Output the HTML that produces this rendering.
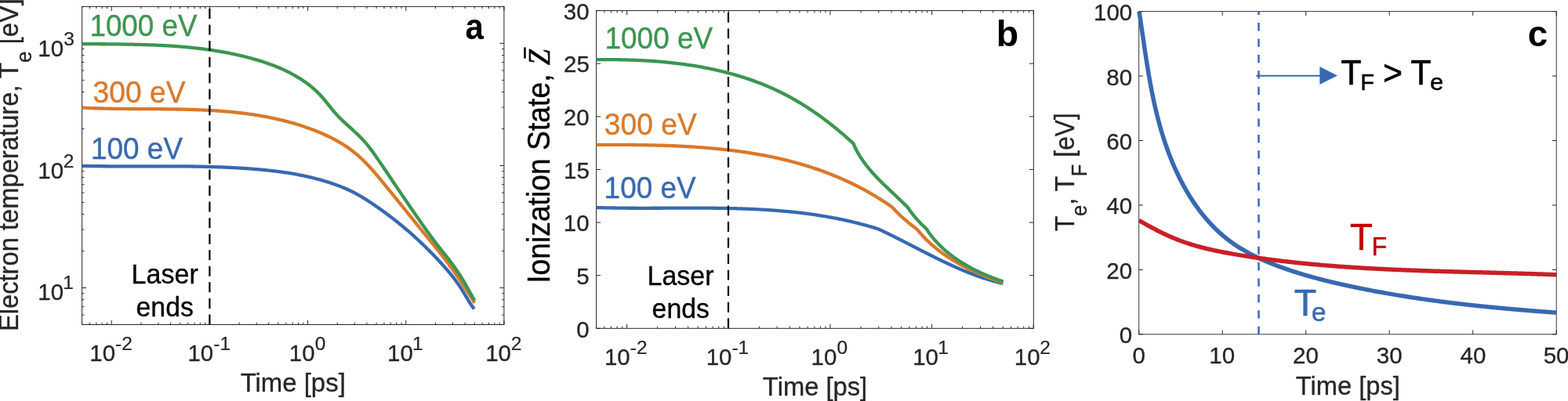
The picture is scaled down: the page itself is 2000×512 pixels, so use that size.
<!DOCTYPE html>
<html lang="en">
<head>
<meta charset="utf-8">
<title>Figure</title>
<style>
html,body{margin:0;padding:0;background:#fff;}
body{width:2000px;height:512px;overflow:hidden;}
svg{display:block;font-family:"Liberation Sans",sans-serif;}
</style>
</head>
<body>
<svg width="2000" height="512" viewBox="0 0 2000 512">
<rect x="0" y="0" width="2000" height="512" fill="#ffffff"/>
<rect x="104.6" y="8.4" width="538.3" height="406.1" fill="none" stroke="#262626" stroke-width="1.0"/>
<line x1="104.6" y1="414.5" x2="104.6" y2="411.75" stroke="#262626" stroke-width="1.0" />
<line x1="104.6" y1="8.4" x2="104.6" y2="11.15" stroke="#262626" stroke-width="1.0" />
<line x1="114.51" y1="414.5" x2="114.51" y2="411.75" stroke="#262626" stroke-width="1.0" />
<line x1="114.51" y1="8.4" x2="114.51" y2="11.15" stroke="#262626" stroke-width="1.0" />
<line x1="122.89" y1="414.5" x2="122.89" y2="411.75" stroke="#262626" stroke-width="1.0" />
<line x1="122.89" y1="8.4" x2="122.89" y2="11.15" stroke="#262626" stroke-width="1.0" />
<line x1="130.15" y1="414.5" x2="130.15" y2="411.75" stroke="#262626" stroke-width="1.0" />
<line x1="130.15" y1="8.4" x2="130.15" y2="11.15" stroke="#262626" stroke-width="1.0" />
<line x1="136.55" y1="414.5" x2="136.55" y2="411.75" stroke="#262626" stroke-width="1.0" />
<line x1="136.55" y1="8.4" x2="136.55" y2="11.15" stroke="#262626" stroke-width="1.0" />
<line x1="142.28" y1="414.5" x2="142.28" y2="409" stroke="#262626" stroke-width="1.0" />
<line x1="142.28" y1="8.4" x2="142.28" y2="13.9" stroke="#262626" stroke-width="1.0" />
<text transform="translate(114.31,461.1) scale(0.295,0.301)" font-size="100" fill="#262626" stroke="#262626" stroke-width="1.0" >10</text>
<text transform="translate(147.08,447.2) scale(0.245,0.238)" font-size="100" fill="#262626" stroke="#262626" stroke-width="1.0" >-2</text>
<line x1="179.95" y1="414.5" x2="179.95" y2="411.75" stroke="#262626" stroke-width="1.0" />
<line x1="179.95" y1="8.4" x2="179.95" y2="11.15" stroke="#262626" stroke-width="1.0" />
<line x1="201.99" y1="414.5" x2="201.99" y2="411.75" stroke="#262626" stroke-width="1.0" />
<line x1="201.99" y1="8.4" x2="201.99" y2="11.15" stroke="#262626" stroke-width="1.0" />
<line x1="217.63" y1="414.5" x2="217.63" y2="411.75" stroke="#262626" stroke-width="1.0" />
<line x1="217.63" y1="8.4" x2="217.63" y2="11.15" stroke="#262626" stroke-width="1.0" />
<line x1="229.76" y1="414.5" x2="229.76" y2="411.75" stroke="#262626" stroke-width="1.0" />
<line x1="229.76" y1="8.4" x2="229.76" y2="11.15" stroke="#262626" stroke-width="1.0" />
<line x1="239.67" y1="414.5" x2="239.67" y2="411.75" stroke="#262626" stroke-width="1.0" />
<line x1="239.67" y1="8.4" x2="239.67" y2="11.15" stroke="#262626" stroke-width="1.0" />
<line x1="248.04" y1="414.5" x2="248.04" y2="411.75" stroke="#262626" stroke-width="1.0" />
<line x1="248.04" y1="8.4" x2="248.04" y2="11.15" stroke="#262626" stroke-width="1.0" />
<line x1="255.3" y1="414.5" x2="255.3" y2="411.75" stroke="#262626" stroke-width="1.0" />
<line x1="255.3" y1="8.4" x2="255.3" y2="11.15" stroke="#262626" stroke-width="1.0" />
<line x1="261.7" y1="414.5" x2="261.7" y2="411.75" stroke="#262626" stroke-width="1.0" />
<line x1="261.7" y1="8.4" x2="261.7" y2="11.15" stroke="#262626" stroke-width="1.0" />
<line x1="267.43" y1="414.5" x2="267.43" y2="409" stroke="#262626" stroke-width="1.0" />
<line x1="267.43" y1="8.4" x2="267.43" y2="13.9" stroke="#262626" stroke-width="1.0" />
<text transform="translate(239.47,461.1) scale(0.295,0.301)" font-size="100" fill="#262626" stroke="#262626" stroke-width="1.0" >10</text>
<text transform="translate(272.23,447.2) scale(0.245,0.238)" font-size="100" fill="#262626" stroke="#262626" stroke-width="1.0" >-1</text>
<line x1="305.11" y1="414.5" x2="305.11" y2="411.75" stroke="#262626" stroke-width="1.0" />
<line x1="305.11" y1="8.4" x2="305.11" y2="11.15" stroke="#262626" stroke-width="1.0" />
<line x1="327.15" y1="414.5" x2="327.15" y2="411.75" stroke="#262626" stroke-width="1.0" />
<line x1="327.15" y1="8.4" x2="327.15" y2="11.15" stroke="#262626" stroke-width="1.0" />
<line x1="342.78" y1="414.5" x2="342.78" y2="411.75" stroke="#262626" stroke-width="1.0" />
<line x1="342.78" y1="8.4" x2="342.78" y2="11.15" stroke="#262626" stroke-width="1.0" />
<line x1="354.91" y1="414.5" x2="354.91" y2="411.75" stroke="#262626" stroke-width="1.0" />
<line x1="354.91" y1="8.4" x2="354.91" y2="11.15" stroke="#262626" stroke-width="1.0" />
<line x1="364.82" y1="414.5" x2="364.82" y2="411.75" stroke="#262626" stroke-width="1.0" />
<line x1="364.82" y1="8.4" x2="364.82" y2="11.15" stroke="#262626" stroke-width="1.0" />
<line x1="373.2" y1="414.5" x2="373.2" y2="411.75" stroke="#262626" stroke-width="1.0" />
<line x1="373.2" y1="8.4" x2="373.2" y2="11.15" stroke="#262626" stroke-width="1.0" />
<line x1="380.46" y1="414.5" x2="380.46" y2="411.75" stroke="#262626" stroke-width="1.0" />
<line x1="380.46" y1="8.4" x2="380.46" y2="11.15" stroke="#262626" stroke-width="1.0" />
<line x1="386.86" y1="414.5" x2="386.86" y2="411.75" stroke="#262626" stroke-width="1.0" />
<line x1="386.86" y1="8.4" x2="386.86" y2="11.15" stroke="#262626" stroke-width="1.0" />
<line x1="392.59" y1="414.5" x2="392.59" y2="409" stroke="#262626" stroke-width="1.0" />
<line x1="392.59" y1="8.4" x2="392.59" y2="13.9" stroke="#262626" stroke-width="1.0" />
<text transform="translate(368.82,461.1) scale(0.295,0.301)" font-size="100" fill="#262626" stroke="#262626" stroke-width="1.0" >10</text>
<text transform="translate(401.83,447.2) scale(0.245,0.238)" font-size="100" fill="#262626" stroke="#262626" stroke-width="1.0" >0</text>
<line x1="430.26" y1="414.5" x2="430.26" y2="411.75" stroke="#262626" stroke-width="1.0" />
<line x1="430.26" y1="8.4" x2="430.26" y2="11.15" stroke="#262626" stroke-width="1.0" />
<line x1="452.3" y1="414.5" x2="452.3" y2="411.75" stroke="#262626" stroke-width="1.0" />
<line x1="452.3" y1="8.4" x2="452.3" y2="11.15" stroke="#262626" stroke-width="1.0" />
<line x1="467.94" y1="414.5" x2="467.94" y2="411.75" stroke="#262626" stroke-width="1.0" />
<line x1="467.94" y1="8.4" x2="467.94" y2="11.15" stroke="#262626" stroke-width="1.0" />
<line x1="480.07" y1="414.5" x2="480.07" y2="411.75" stroke="#262626" stroke-width="1.0" />
<line x1="480.07" y1="8.4" x2="480.07" y2="11.15" stroke="#262626" stroke-width="1.0" />
<line x1="489.98" y1="414.5" x2="489.98" y2="411.75" stroke="#262626" stroke-width="1.0" />
<line x1="489.98" y1="8.4" x2="489.98" y2="11.15" stroke="#262626" stroke-width="1.0" />
<line x1="498.36" y1="414.5" x2="498.36" y2="411.75" stroke="#262626" stroke-width="1.0" />
<line x1="498.36" y1="8.4" x2="498.36" y2="11.15" stroke="#262626" stroke-width="1.0" />
<line x1="505.62" y1="414.5" x2="505.62" y2="411.75" stroke="#262626" stroke-width="1.0" />
<line x1="505.62" y1="8.4" x2="505.62" y2="11.15" stroke="#262626" stroke-width="1.0" />
<line x1="512.02" y1="414.5" x2="512.02" y2="411.75" stroke="#262626" stroke-width="1.0" />
<line x1="512.02" y1="8.4" x2="512.02" y2="11.15" stroke="#262626" stroke-width="1.0" />
<line x1="517.74" y1="414.5" x2="517.74" y2="409" stroke="#262626" stroke-width="1.0" />
<line x1="517.74" y1="8.4" x2="517.74" y2="13.9" stroke="#262626" stroke-width="1.0" />
<text transform="translate(493.98,461.1) scale(0.295,0.301)" font-size="100" fill="#262626" stroke="#262626" stroke-width="1.0" >10</text>
<text transform="translate(526.01,447.2) scale(0.245,0.238)" font-size="100" fill="#262626" stroke="#262626" stroke-width="1.0" >1</text>
<line x1="555.42" y1="414.5" x2="555.42" y2="411.75" stroke="#262626" stroke-width="1.0" />
<line x1="555.42" y1="8.4" x2="555.42" y2="11.15" stroke="#262626" stroke-width="1.0" />
<line x1="577.46" y1="414.5" x2="577.46" y2="411.75" stroke="#262626" stroke-width="1.0" />
<line x1="577.46" y1="8.4" x2="577.46" y2="11.15" stroke="#262626" stroke-width="1.0" />
<line x1="593.1" y1="414.5" x2="593.1" y2="411.75" stroke="#262626" stroke-width="1.0" />
<line x1="593.1" y1="8.4" x2="593.1" y2="11.15" stroke="#262626" stroke-width="1.0" />
<line x1="605.22" y1="414.5" x2="605.22" y2="411.75" stroke="#262626" stroke-width="1.0" />
<line x1="605.22" y1="8.4" x2="605.22" y2="11.15" stroke="#262626" stroke-width="1.0" />
<line x1="615.13" y1="414.5" x2="615.13" y2="411.75" stroke="#262626" stroke-width="1.0" />
<line x1="615.13" y1="8.4" x2="615.13" y2="11.15" stroke="#262626" stroke-width="1.0" />
<line x1="623.51" y1="414.5" x2="623.51" y2="411.75" stroke="#262626" stroke-width="1.0" />
<line x1="623.51" y1="8.4" x2="623.51" y2="11.15" stroke="#262626" stroke-width="1.0" />
<line x1="630.77" y1="414.5" x2="630.77" y2="411.75" stroke="#262626" stroke-width="1.0" />
<line x1="630.77" y1="8.4" x2="630.77" y2="11.15" stroke="#262626" stroke-width="1.0" />
<line x1="637.17" y1="414.5" x2="637.17" y2="411.75" stroke="#262626" stroke-width="1.0" />
<line x1="637.17" y1="8.4" x2="637.17" y2="11.15" stroke="#262626" stroke-width="1.0" />
<line x1="642.9" y1="414.5" x2="642.9" y2="409" stroke="#262626" stroke-width="1.0" />
<line x1="642.9" y1="8.4" x2="642.9" y2="13.9" stroke="#262626" stroke-width="1.0" />
<text transform="translate(619.13,461.1) scale(0.295,0.301)" font-size="100" fill="#262626" stroke="#262626" stroke-width="1.0" >10</text>
<text transform="translate(651.65,447.2) scale(0.245,0.238)" font-size="100" fill="#262626" stroke="#262626" stroke-width="1.0" >2</text>
<line x1="104.6" y1="414.5" x2="107.35" y2="414.5" stroke="#262626" stroke-width="1.0" />
<line x1="642.9" y1="414.5" x2="640.15" y2="414.5" stroke="#262626" stroke-width="1.0" />
<line x1="104.6" y1="402.14" x2="107.35" y2="402.14" stroke="#262626" stroke-width="1.0" />
<line x1="642.9" y1="402.14" x2="640.15" y2="402.14" stroke="#262626" stroke-width="1.0" />
<line x1="104.6" y1="391.69" x2="107.35" y2="391.69" stroke="#262626" stroke-width="1.0" />
<line x1="642.9" y1="391.69" x2="640.15" y2="391.69" stroke="#262626" stroke-width="1.0" />
<line x1="104.6" y1="382.64" x2="107.35" y2="382.64" stroke="#262626" stroke-width="1.0" />
<line x1="642.9" y1="382.64" x2="640.15" y2="382.64" stroke="#262626" stroke-width="1.0" />
<line x1="104.6" y1="374.66" x2="107.35" y2="374.66" stroke="#262626" stroke-width="1.0" />
<line x1="642.9" y1="374.66" x2="640.15" y2="374.66" stroke="#262626" stroke-width="1.0" />
<line x1="104.6" y1="367.52" x2="110.1" y2="367.52" stroke="#262626" stroke-width="1.0" />
<line x1="642.9" y1="367.52" x2="637.4" y2="367.52" stroke="#262626" stroke-width="1.0" />
<text transform="translate(48.23,383.22) scale(0.295,0.301)" font-size="100" fill="#262626" stroke="#262626" stroke-width="1.0" >10</text>
<text transform="translate(80.27,369.32) scale(0.245,0.238)" font-size="100" fill="#262626" stroke="#262626" stroke-width="1.0" >1</text>
<line x1="104.6" y1="320.54" x2="107.35" y2="320.54" stroke="#262626" stroke-width="1.0" />
<line x1="642.9" y1="320.54" x2="640.15" y2="320.54" stroke="#262626" stroke-width="1.0" />
<line x1="104.6" y1="293.05" x2="107.35" y2="293.05" stroke="#262626" stroke-width="1.0" />
<line x1="642.9" y1="293.05" x2="640.15" y2="293.05" stroke="#262626" stroke-width="1.0" />
<line x1="104.6" y1="273.56" x2="107.35" y2="273.56" stroke="#262626" stroke-width="1.0" />
<line x1="642.9" y1="273.56" x2="640.15" y2="273.56" stroke="#262626" stroke-width="1.0" />
<line x1="104.6" y1="258.43" x2="107.35" y2="258.43" stroke="#262626" stroke-width="1.0" />
<line x1="642.9" y1="258.43" x2="640.15" y2="258.43" stroke="#262626" stroke-width="1.0" />
<line x1="104.6" y1="246.07" x2="107.35" y2="246.07" stroke="#262626" stroke-width="1.0" />
<line x1="642.9" y1="246.07" x2="640.15" y2="246.07" stroke="#262626" stroke-width="1.0" />
<line x1="104.6" y1="235.63" x2="107.35" y2="235.63" stroke="#262626" stroke-width="1.0" />
<line x1="642.9" y1="235.63" x2="640.15" y2="235.63" stroke="#262626" stroke-width="1.0" />
<line x1="104.6" y1="226.57" x2="107.35" y2="226.57" stroke="#262626" stroke-width="1.0" />
<line x1="642.9" y1="226.57" x2="640.15" y2="226.57" stroke="#262626" stroke-width="1.0" />
<line x1="104.6" y1="218.59" x2="107.35" y2="218.59" stroke="#262626" stroke-width="1.0" />
<line x1="642.9" y1="218.59" x2="640.15" y2="218.59" stroke="#262626" stroke-width="1.0" />
<line x1="104.6" y1="211.45" x2="110.1" y2="211.45" stroke="#262626" stroke-width="1.0" />
<line x1="642.9" y1="211.45" x2="637.4" y2="211.45" stroke="#262626" stroke-width="1.0" />
<text transform="translate(48.23,227.75) scale(0.295,0.301)" font-size="100" fill="#262626" stroke="#262626" stroke-width="1.0" >10</text>
<text transform="translate(80.76,213.85) scale(0.245,0.238)" font-size="100" fill="#262626" stroke="#262626" stroke-width="1.0" >2</text>
<line x1="104.6" y1="164.47" x2="107.35" y2="164.47" stroke="#262626" stroke-width="1.0" />
<line x1="642.9" y1="164.47" x2="640.15" y2="164.47" stroke="#262626" stroke-width="1.0" />
<line x1="104.6" y1="136.99" x2="107.35" y2="136.99" stroke="#262626" stroke-width="1.0" />
<line x1="642.9" y1="136.99" x2="640.15" y2="136.99" stroke="#262626" stroke-width="1.0" />
<line x1="104.6" y1="117.49" x2="107.35" y2="117.49" stroke="#262626" stroke-width="1.0" />
<line x1="642.9" y1="117.49" x2="640.15" y2="117.49" stroke="#262626" stroke-width="1.0" />
<line x1="104.6" y1="102.36" x2="107.35" y2="102.36" stroke="#262626" stroke-width="1.0" />
<line x1="642.9" y1="102.36" x2="640.15" y2="102.36" stroke="#262626" stroke-width="1.0" />
<line x1="104.6" y1="90" x2="107.35" y2="90" stroke="#262626" stroke-width="1.0" />
<line x1="642.9" y1="90" x2="640.15" y2="90" stroke="#262626" stroke-width="1.0" />
<line x1="104.6" y1="79.56" x2="107.35" y2="79.56" stroke="#262626" stroke-width="1.0" />
<line x1="642.9" y1="79.56" x2="640.15" y2="79.56" stroke="#262626" stroke-width="1.0" />
<line x1="104.6" y1="70.51" x2="107.35" y2="70.51" stroke="#262626" stroke-width="1.0" />
<line x1="642.9" y1="70.51" x2="640.15" y2="70.51" stroke="#262626" stroke-width="1.0" />
<line x1="104.6" y1="62.52" x2="107.35" y2="62.52" stroke="#262626" stroke-width="1.0" />
<line x1="642.9" y1="62.52" x2="640.15" y2="62.52" stroke="#262626" stroke-width="1.0" />
<line x1="104.6" y1="55.38" x2="110.1" y2="55.38" stroke="#262626" stroke-width="1.0" />
<line x1="642.9" y1="55.38" x2="637.4" y2="55.38" stroke="#262626" stroke-width="1.0" />
<text transform="translate(48.23,71.88) scale(0.295,0.301)" font-size="100" fill="#262626" stroke="#262626" stroke-width="1.0" >10</text>
<text transform="translate(81.25,57.98) scale(0.245,0.238)" font-size="100" fill="#262626" stroke="#262626" stroke-width="1.0" >3</text>
<line x1="104.6" y1="8.4" x2="107.35" y2="8.4" stroke="#262626" stroke-width="1.0" />
<line x1="642.9" y1="8.4" x2="640.15" y2="8.4" stroke="#262626" stroke-width="1.0" />
<path d="M104.6,211.8 L106.1,211.84 L107.6,211.87 L109.1,211.9 L110.6,211.93 L112.09,211.96 L113.59,211.99 L115.09,212.02 L116.59,212.04 L118.09,212.07 L119.59,212.09 L121.09,212.11 L122.59,212.13 L124.09,212.15 L125.59,212.17 L127.09,212.19 L128.59,212.2 L130.09,212.22 L131.58,212.23 L133.08,212.25 L134.58,212.26 L136.08,212.27 L137.58,212.28 L139.08,212.29 L140.58,212.3 L142.08,212.31 L143.58,212.32 L145.08,212.32 L146.58,212.33 L148.08,212.33 L149.58,212.34 L151.08,212.34 L152.58,212.34 L154.08,212.35 L155.58,212.35 L157.08,212.35 L158.58,212.35 L160.08,212.35 L161.58,212.35 L163.08,212.35 L164.58,212.35 L166.08,212.35 L167.58,212.35 L169.09,212.34 L170.59,212.34 L172.09,212.34 L173.59,212.34 L175.09,212.33 L176.59,212.33 L178.09,212.33 L179.59,212.32 L181.09,212.32 L182.59,212.32 L184.09,212.31 L185.59,212.31 L187.09,212.31 L188.59,212.3 L190.09,212.3 L191.59,212.3 L193.09,212.29 L194.59,212.29 L196.09,212.29 L197.59,212.29 L199.09,212.28 L200.59,212.28 L202.1,212.28 L203.6,212.28 L205.1,212.28 L206.6,212.28 L208.1,212.28 L209.6,212.28 L211.1,212.28 L212.6,212.28 L214.1,212.28 L215.6,212.29 L217.1,212.29 L218.6,212.29 L220.1,212.3 L221.6,212.3 L223.1,212.31 L224.6,212.31 L226.1,212.32 L227.6,212.33 L229.1,212.34 L230.6,212.35 L232.1,212.36 L233.6,212.37 L235.1,212.38 L236.6,212.4 L238.1,212.41 L239.6,212.43 L241.1,212.44 L242.6,212.46 L244.1,212.48 L245.6,212.5 L247.1,212.52 L248.6,212.54 L250.1,212.57 L251.6,212.59 L253.1,212.62 L254.6,212.64 L256.1,212.67 L257.6,212.7 L259.1,212.73 L260.6,212.77 L262.1,212.8 L263.6,212.84 L265.1,212.87 L266.6,212.91 L268.1,212.95 L269.6,212.99 L271.1,213.04 L272.59,213.08 L274.09,213.13 L275.59,213.18 L277.09,213.23 L278.59,213.28 L280.09,213.33 L281.59,213.39 L283.09,213.45 L284.59,213.51 L286.08,213.57 L287.58,213.63 L289.08,213.7 L290.58,213.76 L292.08,213.83 L293.58,213.9 L295.07,213.98 L296.57,214.05 L298.07,214.13 L299.57,214.21 L301.07,214.29 L302.56,214.37 L304.06,214.46 L305.56,214.55 L307.06,214.64 L308.55,214.73 L310.05,214.83 L311.55,214.92 L313.05,215.02 L314.54,215.13 L316.04,215.23 L317.54,215.34 L319.04,215.45 L320.53,215.56 L322.03,215.68 L323.53,215.8 L325.02,215.92 L326.52,216.04 L328.01,216.17 L329.51,216.3 L331.01,216.43 L332.5,216.56 L334,216.7 L335.49,216.84 L336.98,216.99 L338.48,217.14 L339.97,217.29 L341.46,217.45 L342.96,217.61 L344.45,217.77 L345.94,217.94 L347.43,218.11 L348.92,218.28 L350.41,218.46 L351.9,218.65 L353.39,218.83 L354.88,219.03 L356.36,219.22 L357.85,219.42 L359.33,219.63 L360.82,219.84 L362.3,220.05 L363.78,220.27 L365.27,220.49 L366.75,220.72 L368.23,220.95 L369.71,221.19 L371.18,221.44 L372.66,221.68 L374.14,221.94 L375.61,222.2 L377.09,222.46 L378.56,222.73 L380.03,223.01 L381.5,223.29 L382.97,223.57 L384.44,223.87 L385.9,224.16 L387.37,224.47 L388.83,224.78 L390.29,225.09 L391.76,225.42 L393.22,225.74 L394.67,226.08 L396.13,226.42 L397.59,226.77 L399.04,227.12 L400.49,227.48 L401.94,227.85 L403.39,228.22 L404.84,228.6 L406.29,228.99 L407.73,229.38 L409.17,229.78 L410.62,230.19 L412.05,230.61 L413.49,231.03 L414.93,231.46 L416.36,231.9 L417.79,232.34 L419.22,232.8 L420.65,233.26 L422.08,233.72 L423.5,234.2 L424.92,234.68 L426.34,235.17 L427.76,235.67 L429.17,236.18 L430.58,236.7 L431.99,237.23 L433.39,237.77 L434.79,238.31 L436.18,238.87 L437.57,239.44 L438.96,240.01 L440.34,240.6 L441.71,241.2 L443.08,241.81 L444.45,242.43 L445.8,243.06 L447.16,243.7 L448.5,244.35 L449.84,245.02 L451.18,245.7 L452.5,246.39 L453.82,247.09 L455.14,247.81 L456.44,248.53 L457.75,249.27 L459.04,250.01 L460.33,250.77 L461.62,251.53 L462.89,252.31 L464.17,253.09 L465.44,253.88 L466.7,254.68 L467.97,255.48 L469.22,256.29 L470.48,257.11 L471.73,257.93 L472.98,258.75 L474.22,259.58 L475.46,260.42 L476.7,261.26 L477.94,262.1 L479.17,262.94 L480.4,263.79 L481.63,264.65 L482.86,265.51 L484.08,266.37 L485.3,267.23 L486.52,268.1 L487.73,268.98 L488.94,269.85 L490.15,270.73 L491.36,271.62 L492.56,272.51 L493.76,273.4 L494.96,274.3 L496.16,275.2 L497.35,276.1 L498.54,277.01 L499.72,277.92 L500.91,278.84 L502.09,279.75 L503.27,280.68 L504.44,281.61 L505.62,282.54 L506.79,283.47 L507.95,284.41 L509.12,285.35 L510.28,286.3 L511.44,287.25 L512.6,288.2 L513.75,289.16 L514.9,290.12 L516.05,291.09 L517.19,292.05 L518.33,293.03 L519.47,294 L520.61,294.98 L521.74,295.97 L522.87,296.95 L524,297.94 L525.12,298.94 L526.24,299.93 L527.36,300.93 L528.47,301.94 L529.59,302.95 L530.69,303.96 L531.8,304.97 L532.9,305.99 L534,307.01 L535.1,308.04 L536.19,309.06 L537.28,310.1 L538.37,311.13 L539.45,312.17 L540.53,313.21 L541.61,314.25 L542.68,315.3 L543.76,316.35 L544.82,317.41 L545.89,318.46 L546.95,319.52 L548.01,320.58 L549.06,321.65 L550.11,322.72 L551.16,323.79 L552.21,324.87 L553.25,325.94 L554.29,327.03 L555.32,328.11 L556.35,329.2 L557.38,330.29 L558.4,331.38 L559.43,332.47 L560.44,333.57 L561.46,334.67 L562.47,335.77 L563.48,336.88 L564.48,337.99 L565.48,339.1 L566.47,340.22 L567.47,341.34 L568.45,342.46 L569.43,343.59 L570.41,344.72 L571.38,345.86 L572.34,347 L573.3,348.15 L574.25,349.3 L575.19,350.45 L576.13,351.61 L577.06,352.78 L577.98,353.95 L578.9,355.13 L579.8,356.32 L580.7,357.51 L581.59,358.71 L582.48,359.92 L583.35,361.13 L584.21,362.35 L585.07,363.58 L585.91,364.81 L586.74,366.05 L587.57,367.3 L588.38,368.56 L589.18,369.83 L589.98,371.11 L590.76,372.39 L591.54,373.68 L592.31,374.97 L593.07,376.27 L593.84,377.56 L594.6,378.86 L595.37,380.16 L596.14,381.45 L596.91,382.74 L597.69,384.02 L598.48,385.3 L599.29,386.57 L600.1,387.82 L600.93,389.07 L601.77,390.3 L602.64,391.52 L603.52,392.72 L604.43,393.91 L604.9,394.5" fill="none" stroke="#3769b1" stroke-width="4.3" stroke-linejoin="round" stroke-linecap="butt"/>
<path d="M104.6,137.49 L106.07,137.57 L107.54,137.64 L109.01,137.71 L110.48,137.78 L111.95,137.85 L113.43,137.91 L114.9,137.97 L116.38,138.03 L117.85,138.09 L119.33,138.15 L120.81,138.2 L122.29,138.25 L123.77,138.3 L125.25,138.34 L126.73,138.39 L128.22,138.43 L129.7,138.47 L131.18,138.51 L132.67,138.55 L134.16,138.58 L135.65,138.61 L137.13,138.65 L138.62,138.68 L140.12,138.71 L141.61,138.73 L143.1,138.76 L144.59,138.78 L146.09,138.81 L147.58,138.83 L149.08,138.85 L150.57,138.87 L152.07,138.89 L153.57,138.91 L155.06,138.92 L156.56,138.94 L158.06,138.95 L159.56,138.97 L161.06,138.98 L162.56,138.99 L164.07,139 L165.57,139.01 L167.07,139.02 L168.57,139.03 L170.08,139.04 L171.58,139.05 L173.09,139.06 L174.59,139.07 L176.1,139.08 L177.61,139.08 L179.11,139.09 L180.62,139.1 L182.13,139.1 L183.64,139.11 L185.14,139.12 L186.65,139.13 L188.16,139.13 L189.67,139.14 L191.18,139.15 L192.69,139.15 L194.2,139.16 L195.71,139.17 L197.22,139.18 L198.74,139.19 L200.25,139.2 L201.76,139.21 L203.27,139.22 L204.78,139.23 L206.3,139.24 L207.81,139.25 L209.32,139.27 L210.83,139.28 L212.35,139.3 L213.86,139.31 L215.37,139.33 L216.88,139.35 L218.4,139.37 L219.91,139.39 L221.42,139.41 L222.94,139.43 L224.45,139.46 L225.96,139.48 L227.48,139.51 L228.99,139.54 L230.5,139.57 L232.01,139.6 L233.53,139.63 L235.04,139.67 L236.55,139.71 L238.06,139.74 L239.58,139.78 L241.09,139.83 L242.6,139.87 L244.11,139.91 L245.62,139.96 L247.13,140.01 L248.64,140.06 L250.15,140.12 L251.66,140.17 L253.17,140.23 L254.68,140.29 L256.19,140.36 L257.7,140.42 L259.21,140.49 L260.72,140.56 L262.22,140.63 L263.73,140.71 L265.24,140.79 L266.75,140.87 L268.25,140.95 L269.76,141.04 L271.26,141.13 L272.77,141.22 L274.27,141.31 L275.77,141.41 L277.28,141.51 L278.78,141.62 L280.28,141.72 L281.78,141.83 L283.28,141.95 L284.78,142.07 L286.28,142.19 L287.78,142.31 L289.28,142.44 L290.77,142.57 L292.27,142.7 L293.77,142.84 L295.26,142.98 L296.76,143.13 L298.25,143.28 L299.74,143.43 L301.23,143.59 L302.72,143.75 L304.21,143.91 L305.7,144.08 L307.19,144.25 L308.68,144.43 L310.17,144.61 L311.65,144.8 L313.14,144.98 L314.62,145.18 L316.11,145.38 L317.59,145.58 L319.07,145.79 L320.55,146 L322.03,146.21 L323.51,146.43 L324.98,146.66 L326.46,146.89 L327.93,147.12 L329.41,147.36 L330.88,147.61 L332.35,147.86 L333.82,148.11 L335.29,148.37 L336.76,148.63 L338.23,148.9 L339.69,149.18 L341.16,149.46 L342.62,149.74 L344.08,150.03 L345.54,150.33 L347,150.63 L348.46,150.93 L349.92,151.25 L351.38,151.56 L352.83,151.89 L354.28,152.22 L355.74,152.55 L357.19,152.89 L358.63,153.24 L360.08,153.59 L361.53,153.95 L362.97,154.31 L364.42,154.68 L365.86,155.05 L367.3,155.44 L368.74,155.82 L370.17,156.22 L371.61,156.62 L373.04,157.03 L374.48,157.44 L375.91,157.86 L377.34,158.28 L378.77,158.72 L380.19,159.16 L381.62,159.6 L383.04,160.05 L384.46,160.51 L385.88,160.98 L387.3,161.45 L388.72,161.93 L390.13,162.42 L391.54,162.91 L392.95,163.41 L394.36,163.92 L395.77,164.43 L397.18,164.95 L398.58,165.48 L399.98,166.02 L401.38,166.56 L402.78,167.11 L404.18,167.67 L405.57,168.24 L406.96,168.81 L408.35,169.39 L409.73,169.98 L411.11,170.58 L412.49,171.19 L413.86,171.8 L415.23,172.43 L416.6,173.06 L417.96,173.7 L419.32,174.35 L420.67,175.01 L422.01,175.68 L423.35,176.36 L424.69,177.05 L426.02,177.75 L427.34,178.45 L428.66,179.17 L429.97,179.9 L431.28,180.64 L432.58,181.39 L433.87,182.14 L435.15,182.91 L436.43,183.69 L437.7,184.48 L438.96,185.29 L440.21,186.1 L441.46,186.92 L442.7,187.76 L443.92,188.61 L445.14,189.47 L446.35,190.34 L447.55,191.22 L448.75,192.11 L449.93,193.02 L451.1,193.94 L452.26,194.87 L453.41,195.81 L454.56,196.77 L455.69,197.74 L456.81,198.72 L457.92,199.71 L459.03,200.71 L460.12,201.72 L461.21,202.74 L462.29,203.77 L463.36,204.81 L464.43,205.86 L465.48,206.92 L466.53,207.99 L467.58,209.06 L468.61,210.15 L469.64,211.24 L470.67,212.33 L471.68,213.44 L472.7,214.55 L473.7,215.66 L474.7,216.78 L475.7,217.91 L476.69,219.04 L477.68,220.18 L478.67,221.32 L479.65,222.46 L480.62,223.61 L481.6,224.76 L482.57,225.92 L483.53,227.07 L484.5,228.23 L485.46,229.4 L486.42,230.56 L487.38,231.72 L488.34,232.89 L489.29,234.05 L490.25,235.22 L491.2,236.39 L492.16,237.55 L493.11,238.72 L494.06,239.88 L495.01,241.05 L495.96,242.22 L496.91,243.38 L497.86,244.55 L498.81,245.71 L499.76,246.88 L500.7,248.04 L501.65,249.21 L502.6,250.38 L503.54,251.54 L504.49,252.71 L505.43,253.87 L506.38,255.04 L507.32,256.2 L508.26,257.37 L509.21,258.54 L510.15,259.7 L511.09,260.87 L512.03,262.03 L512.97,263.2 L513.91,264.36 L514.86,265.53 L515.8,266.69 L516.74,267.86 L517.68,269.02 L518.62,270.19 L519.56,271.35 L520.5,272.52 L521.44,273.68 L522.38,274.85 L523.32,276.01 L524.26,277.18 L525.19,278.34 L526.13,279.51 L527.07,280.67 L528.01,281.84 L528.95,283 L529.89,284.16 L530.83,285.33 L531.77,286.49 L532.71,287.66 L533.65,288.82 L534.59,289.98 L535.53,291.15 L536.47,292.31 L537.42,293.48 L538.36,294.64 L539.3,295.8 L540.24,296.97 L541.18,298.13 L542.13,299.29 L543.07,300.46 L544.01,301.62 L544.96,302.78 L545.9,303.95 L546.85,305.11 L547.79,306.27 L548.74,307.43 L549.69,308.6 L550.63,309.76 L551.58,310.92 L552.52,312.09 L553.47,313.25 L554.41,314.42 L555.36,315.58 L556.3,316.75 L557.24,317.92 L558.18,319.09 L559.12,320.26 L560.06,321.43 L560.99,322.6 L561.92,323.77 L562.85,324.95 L563.78,326.13 L564.71,327.31 L565.63,328.49 L566.55,329.67 L567.47,330.86 L568.39,332.05 L569.3,333.24 L570.2,334.43 L571.11,335.63 L572.01,336.82 L572.9,338.02 L573.8,339.23 L574.68,340.44 L575.57,341.65 L576.45,342.86 L577.32,344.07 L578.19,345.29 L579.06,346.51 L579.92,347.74 L580.78,348.96 L581.63,350.19 L582.49,351.43 L583.33,352.66 L584.18,353.89 L585.02,355.13 L585.86,356.37 L586.69,357.61 L587.52,358.86 L588.35,360.1 L589.18,361.35 L590,362.6 L590.82,363.85 L591.64,365.1 L592.46,366.35 L593.27,367.61 L594.09,368.86 L594.89,370.12 L595.7,371.38 L596.51,372.63 L597.31,373.89 L598.12,375.15 L598.92,376.41 L599.72,377.67 L600.51,378.93 L601.31,380.19 L602.11,381.45 L602.9,382.71 L603.7,383.97 L604.49,385.24 L605.28,386.5 L605.29,386.51" fill="none" stroke="#d9792b" stroke-width="4.3" stroke-linejoin="round" stroke-linecap="butt"/>
<path d="M104.6,56 L106.09,56.02 L107.59,56.03 L109.08,56.05 L110.57,56.06 L112.07,56.08 L113.56,56.09 L115.05,56.1 L116.55,56.12 L118.05,56.13 L119.54,56.14 L121.04,56.15 L122.54,56.16 L124.03,56.18 L125.53,56.19 L127.03,56.2 L128.53,56.21 L130.02,56.23 L131.52,56.24 L133.02,56.25 L134.52,56.26 L136.02,56.28 L137.52,56.29 L139.02,56.3 L140.52,56.32 L142.02,56.33 L143.52,56.35 L145.02,56.36 L146.53,56.38 L148.03,56.39 L149.53,56.41 L151.03,56.43 L152.53,56.45 L154.03,56.47 L155.54,56.49 L157.04,56.51 L158.54,56.53 L160.04,56.55 L161.55,56.58 L163.05,56.6 L164.55,56.63 L166.05,56.66 L167.56,56.69 L169.06,56.72 L170.56,56.75 L172.07,56.78 L173.57,56.81 L175.07,56.85 L176.57,56.89 L178.08,56.93 L179.58,56.97 L181.08,57.01 L182.59,57.05 L184.09,57.09 L185.59,57.14 L187.09,57.19 L188.6,57.24 L190.1,57.29 L191.6,57.35 L193.1,57.4 L194.61,57.46 L196.11,57.52 L197.61,57.58 L199.11,57.65 L200.61,57.71 L202.11,57.78 L203.61,57.85 L205.11,57.93 L206.61,58 L208.11,58.08 L209.61,58.16 L211.11,58.25 L212.61,58.33 L214.11,58.42 L215.61,58.51 L217.11,58.6 L218.61,58.7 L220.11,58.8 L221.6,58.9 L223.1,59.01 L224.6,59.11 L226.09,59.22 L227.59,59.34 L229.09,59.45 L230.58,59.57 L232.08,59.7 L233.57,59.82 L235.07,59.95 L236.56,60.09 L238.05,60.22 L239.54,60.36 L241.04,60.5 L242.53,60.65 L244.02,60.8 L245.51,60.95 L247,61.11 L248.49,61.27 L249.98,61.43 L251.47,61.6 L252.96,61.77 L254.44,61.95 L255.93,62.13 L257.42,62.31 L258.9,62.5 L260.39,62.69 L261.87,62.88 L263.36,63.08 L264.84,63.29 L266.32,63.49 L267.8,63.7 L269.29,63.92 L270.77,64.14 L272.25,64.37 L273.73,64.59 L275.2,64.83 L276.68,65.07 L278.16,65.31 L279.63,65.55 L281.11,65.81 L282.58,66.06 L284.06,66.32 L285.53,66.59 L287,66.86 L288.48,67.13 L289.95,67.41 L291.42,67.7 L292.88,67.99 L294.35,68.28 L295.82,68.58 L297.29,68.89 L298.75,69.2 L300.22,69.52 L301.68,69.84 L303.14,70.16 L304.6,70.49 L306.07,70.83 L307.53,71.17 L308.98,71.52 L310.44,71.87 L311.9,72.23 L313.36,72.6 L314.81,72.97 L316.26,73.34 L317.72,73.72 L319.17,74.11 L320.62,74.5 L322.07,74.9 L323.52,75.31 L324.97,75.72 L326.41,76.14 L327.86,76.56 L329.3,76.99 L330.74,77.43 L332.18,77.87 L333.61,78.32 L335.05,78.78 L336.48,79.25 L337.9,79.72 L339.33,80.2 L340.75,80.69 L342.17,81.19 L343.59,81.69 L345,82.2 L346.41,82.72 L347.82,83.25 L349.22,83.79 L350.62,84.33 L352.02,84.89 L353.41,85.45 L354.8,86.02 L356.18,86.6 L357.56,87.2 L358.93,87.8 L360.3,88.41 L361.66,89.03 L363.02,89.65 L364.37,90.29 L365.72,90.94 L367.06,91.6 L368.4,92.27 L369.73,92.95 L371.06,93.65 L372.38,94.35 L373.69,95.06 L375,95.78 L376.3,96.52 L377.59,97.27 L378.88,98.02 L380.16,98.79 L381.44,99.58 L382.7,100.37 L383.96,101.17 L385.22,101.99 L386.46,102.82 L387.7,103.66 L388.93,104.52 L390.15,105.39 L391.37,106.27 L392.57,107.16 L393.77,108.07 L394.95,108.98 L396.13,109.92 L397.29,110.86 L398.44,111.82 L399.58,112.8 L400.7,113.79 L401.82,114.79 L402.91,115.81 L404,116.84 L405.07,117.88 L406.12,118.94 L407.16,120.02 L408.18,121.1 L409.19,122.2 L410.19,123.31 L411.18,124.43 L412.16,125.56 L413.13,126.7 L414.09,127.85 L415.04,129 L415.99,130.15 L416.93,131.31 L417.88,132.48 L418.81,133.64 L419.75,134.81 L420.69,135.97 L421.63,137.13 L422.58,138.3 L423.53,139.45 L424.48,140.61 L425.44,141.75 L426.41,142.9 L427.38,144.03 L428.37,145.15 L429.37,146.27 L430.38,147.37 L431.4,148.47 L432.43,149.55 L433.48,150.62 L434.54,151.68 L435.6,152.73 L436.68,153.78 L437.76,154.82 L438.86,155.85 L439.95,156.87 L441.06,157.89 L442.16,158.91 L443.28,159.92 L444.39,160.93 L445.51,161.94 L446.62,162.95 L447.74,163.96 L448.86,164.97 L449.97,165.98 L451.08,166.99 L452.19,168 L453.3,169.02 L454.4,170.05 L455.49,171.07 L456.58,172.11 L457.65,173.15 L458.72,174.2 L459.78,175.26 L460.83,176.32 L461.87,177.4 L462.9,178.48 L463.91,179.58 L464.91,180.69 L465.89,181.82 L466.87,182.95 L467.83,184.09 L468.77,185.25 L469.71,186.41 L470.64,187.59 L471.55,188.77 L472.46,189.96 L473.36,191.16 L474.25,192.36 L475.13,193.57 L476.01,194.79 L476.88,196.01 L477.74,197.23 L478.6,198.46 L479.46,199.69 L480.31,200.93 L481.16,202.17 L482.01,203.4 L482.85,204.64 L483.7,205.88 L484.54,207.12 L485.39,208.36 L486.23,209.6 L487.08,210.84 L487.92,212.08 L488.76,213.32 L489.6,214.57 L490.44,215.81 L491.28,217.05 L492.13,218.29 L492.97,219.53 L493.81,220.77 L494.65,222.01 L495.48,223.25 L496.32,224.5 L497.16,225.74 L498,226.98 L498.84,228.22 L499.68,229.46 L500.52,230.71 L501.36,231.95 L502.2,233.19 L503.03,234.43 L503.87,235.68 L504.71,236.92 L505.55,238.16 L506.39,239.4 L507.23,240.65 L508.07,241.89 L508.91,243.13 L509.75,244.37 L510.59,245.62 L511.43,246.86 L512.27,248.1 L513.11,249.34 L513.95,250.58 L514.79,251.83 L515.63,253.07 L516.48,254.31 L517.32,255.55 L518.16,256.79 L519.01,258.03 L519.85,259.27 L520.7,260.51 L521.54,261.75 L522.39,262.99 L523.23,264.22 L524.08,265.46 L524.93,266.7 L525.78,267.94 L526.63,269.17 L527.48,270.41 L528.33,271.64 L529.18,272.88 L530.03,274.11 L530.88,275.34 L531.74,276.57 L532.59,277.8 L533.45,279.03 L534.3,280.26 L535.16,281.49 L536.02,282.72 L536.88,283.95 L537.74,285.17 L538.6,286.4 L539.46,287.62 L540.32,288.85 L541.19,290.07 L542.05,291.29 L542.92,292.51 L543.79,293.73 L544.66,294.94 L545.53,296.16 L546.41,297.37 L547.29,298.59 L548.17,299.8 L549.05,301.01 L549.93,302.21 L550.82,303.42 L551.71,304.62 L552.61,305.82 L553.5,307.02 L554.4,308.22 L555.3,309.41 L556.21,310.61 L557.12,311.8 L558.03,312.99 L558.95,314.17 L559.87,315.35 L560.8,316.54 L561.73,317.71 L562.66,318.89 L563.59,320.07 L564.53,321.24 L565.46,322.42 L566.4,323.59 L567.33,324.77 L568.26,325.94 L569.2,327.12 L570.13,328.3 L571.05,329.48 L571.98,330.66 L572.89,331.85 L573.81,333.04 L574.72,334.24 L575.62,335.44 L576.51,336.64 L577.4,337.85 L578.28,339.06 L579.16,340.28 L580.03,341.5 L580.89,342.72 L581.74,343.95 L582.59,345.19 L583.43,346.43 L584.26,347.68 L585.09,348.92 L585.91,350.18 L586.72,351.44 L587.52,352.7 L588.32,353.97 L589.11,355.25 L589.89,356.52 L590.67,357.81 L591.43,359.09 L592.19,360.39 L592.94,361.69 L593.69,362.99 L594.43,364.29 L595.16,365.6 L595.89,366.91 L596.62,368.22 L597.35,369.54 L598.08,370.85 L598.8,372.16 L599.53,373.48 L600.26,374.79 L601,376.09 L601.73,377.4 L602.48,378.7 L603.23,380 L603.98,381.29 L604.75,382.58 L605.3,383.5" fill="none" stroke="#3c9650" stroke-width="4.3" stroke-linejoin="round" stroke-linecap="butt"/>
<path d="M267.4,11V24 M267.4,31.55V44.55 M267.4,52.1V65.1 M267.4,72.65V85.65 M267.4,93.2V106.2 M267.4,113.75V126.75 M267.4,134.3V147.3 M267.4,154.85V167.85 M267.4,175.4V188.4 M267.4,195.95V208.95 M267.4,216.5V229.5 M267.4,237.05V250.05 M267.4,257.6V270.6 M267.4,278.15V291.15 M267.4,298.7V311.7 M267.4,319.25V332.25 M267.4,339.8V352.8 M267.4,360.35V373.35 M267.4,380.9V393.9 M267.4,401.45V414.45" fill="none" stroke="#000" stroke-width="2.2"/>
<text transform="translate(114.42,46.1) scale(0.3681,0.3949)" font-size="100" fill="#3c9650" stroke="#3c9650" stroke-width="1.0" >1000 eV</text>
<text transform="translate(118.53,131) scale(0.3721,0.3949)" font-size="100" fill="#d9792b" stroke="#d9792b" stroke-width="1.0" >300 eV</text>
<text transform="translate(116.01,203.1) scale(0.3694,0.3949)" font-size="100" fill="#3769b1" stroke="#3769b1" stroke-width="1.0" >100 eV</text>
<text transform="translate(167.47,361.7) scale(0.3411,0.3584)" font-size="100" fill="#000" stroke="#000" stroke-width="1.0" >Laser</text>
<text transform="translate(173.49,403.9) scale(0.3388,0.3584)" font-size="100" fill="#000" stroke="#000" stroke-width="1.0" >ends</text>
<text transform="translate(593.44,49.84) scale(0.4208,0.4618)" font-size="100" fill="#000" font-weight="bold">a</text>
<text transform="translate(306.64,500.3) scale(0.3293,0.3293)" font-size="100" fill="#262626" stroke="#262626" stroke-width="1.0" >Time [ps]</text>
<text transform="translate(23.4,423.12) rotate(-90) scale(0.3273,0.3415)" font-size="100" fill="#262626" stroke="#262626" stroke-width="1.0" >Electron temperature, T<tspan font-size="80" dy="48.5">e</tspan><tspan dy="-48.5"> [eV]</tspan></text>
<rect x="760.6" y="13.55" width="557.7" height="405.75" fill="none" stroke="#262626" stroke-width="1.0"/>
<line x1="760.6" y1="419.3" x2="760.6" y2="416.55" stroke="#262626" stroke-width="1.0" />
<line x1="760.6" y1="13.55" x2="760.6" y2="16.3" stroke="#262626" stroke-width="1.0" />
<line x1="770.87" y1="419.3" x2="770.87" y2="416.55" stroke="#262626" stroke-width="1.0" />
<line x1="770.87" y1="13.55" x2="770.87" y2="16.3" stroke="#262626" stroke-width="1.0" />
<line x1="779.55" y1="419.3" x2="779.55" y2="416.55" stroke="#262626" stroke-width="1.0" />
<line x1="779.55" y1="13.55" x2="779.55" y2="16.3" stroke="#262626" stroke-width="1.0" />
<line x1="787.07" y1="419.3" x2="787.07" y2="416.55" stroke="#262626" stroke-width="1.0" />
<line x1="787.07" y1="13.55" x2="787.07" y2="16.3" stroke="#262626" stroke-width="1.0" />
<line x1="793.7" y1="419.3" x2="793.7" y2="416.55" stroke="#262626" stroke-width="1.0" />
<line x1="793.7" y1="13.55" x2="793.7" y2="16.3" stroke="#262626" stroke-width="1.0" />
<line x1="799.63" y1="419.3" x2="799.63" y2="413.8" stroke="#262626" stroke-width="1.0" />
<line x1="799.63" y1="13.55" x2="799.63" y2="19.05" stroke="#262626" stroke-width="1.0" />
<text transform="translate(770.97,466) scale(0.295,0.301)" font-size="100" fill="#262626" stroke="#262626" stroke-width="1.0" >10</text>
<text transform="translate(803.73,452.1) scale(0.245,0.238)" font-size="100" fill="#262626" stroke="#262626" stroke-width="1.0" >-2</text>
<line x1="838.67" y1="419.3" x2="838.67" y2="416.55" stroke="#262626" stroke-width="1.0" />
<line x1="838.67" y1="13.55" x2="838.67" y2="16.3" stroke="#262626" stroke-width="1.0" />
<line x1="861.5" y1="419.3" x2="861.5" y2="416.55" stroke="#262626" stroke-width="1.0" />
<line x1="861.5" y1="13.55" x2="861.5" y2="16.3" stroke="#262626" stroke-width="1.0" />
<line x1="877.7" y1="419.3" x2="877.7" y2="416.55" stroke="#262626" stroke-width="1.0" />
<line x1="877.7" y1="13.55" x2="877.7" y2="16.3" stroke="#262626" stroke-width="1.0" />
<line x1="890.27" y1="419.3" x2="890.27" y2="416.55" stroke="#262626" stroke-width="1.0" />
<line x1="890.27" y1="13.55" x2="890.27" y2="16.3" stroke="#262626" stroke-width="1.0" />
<line x1="900.53" y1="419.3" x2="900.53" y2="416.55" stroke="#262626" stroke-width="1.0" />
<line x1="900.53" y1="13.55" x2="900.53" y2="16.3" stroke="#262626" stroke-width="1.0" />
<line x1="909.21" y1="419.3" x2="909.21" y2="416.55" stroke="#262626" stroke-width="1.0" />
<line x1="909.21" y1="13.55" x2="909.21" y2="16.3" stroke="#262626" stroke-width="1.0" />
<line x1="916.73" y1="419.3" x2="916.73" y2="416.55" stroke="#262626" stroke-width="1.0" />
<line x1="916.73" y1="13.55" x2="916.73" y2="16.3" stroke="#262626" stroke-width="1.0" />
<line x1="923.37" y1="419.3" x2="923.37" y2="416.55" stroke="#262626" stroke-width="1.0" />
<line x1="923.37" y1="13.55" x2="923.37" y2="16.3" stroke="#262626" stroke-width="1.0" />
<line x1="929.3" y1="419.3" x2="929.3" y2="413.8" stroke="#262626" stroke-width="1.0" />
<line x1="929.3" y1="13.55" x2="929.3" y2="19.05" stroke="#262626" stroke-width="1.0" />
<text transform="translate(900.64,466) scale(0.295,0.301)" font-size="100" fill="#262626" stroke="#262626" stroke-width="1.0" >10</text>
<text transform="translate(933.4,452.1) scale(0.245,0.238)" font-size="100" fill="#262626" stroke="#262626" stroke-width="1.0" >-1</text>
<line x1="968.33" y1="419.3" x2="968.33" y2="416.55" stroke="#262626" stroke-width="1.0" />
<line x1="968.33" y1="13.55" x2="968.33" y2="16.3" stroke="#262626" stroke-width="1.0" />
<line x1="991.17" y1="419.3" x2="991.17" y2="416.55" stroke="#262626" stroke-width="1.0" />
<line x1="991.17" y1="13.55" x2="991.17" y2="16.3" stroke="#262626" stroke-width="1.0" />
<line x1="1007.37" y1="419.3" x2="1007.37" y2="416.55" stroke="#262626" stroke-width="1.0" />
<line x1="1007.37" y1="13.55" x2="1007.37" y2="16.3" stroke="#262626" stroke-width="1.0" />
<line x1="1019.93" y1="419.3" x2="1019.93" y2="416.55" stroke="#262626" stroke-width="1.0" />
<line x1="1019.93" y1="13.55" x2="1019.93" y2="16.3" stroke="#262626" stroke-width="1.0" />
<line x1="1030.2" y1="419.3" x2="1030.2" y2="416.55" stroke="#262626" stroke-width="1.0" />
<line x1="1030.2" y1="13.55" x2="1030.2" y2="16.3" stroke="#262626" stroke-width="1.0" />
<line x1="1038.88" y1="419.3" x2="1038.88" y2="416.55" stroke="#262626" stroke-width="1.0" />
<line x1="1038.88" y1="13.55" x2="1038.88" y2="16.3" stroke="#262626" stroke-width="1.0" />
<line x1="1046.4" y1="419.3" x2="1046.4" y2="416.55" stroke="#262626" stroke-width="1.0" />
<line x1="1046.4" y1="13.55" x2="1046.4" y2="16.3" stroke="#262626" stroke-width="1.0" />
<line x1="1053.03" y1="419.3" x2="1053.03" y2="416.55" stroke="#262626" stroke-width="1.0" />
<line x1="1053.03" y1="13.55" x2="1053.03" y2="16.3" stroke="#262626" stroke-width="1.0" />
<line x1="1058.97" y1="419.3" x2="1058.97" y2="413.8" stroke="#262626" stroke-width="1.0" />
<line x1="1058.97" y1="13.55" x2="1058.97" y2="19.05" stroke="#262626" stroke-width="1.0" />
<text transform="translate(1034.5,466) scale(0.295,0.301)" font-size="100" fill="#262626" stroke="#262626" stroke-width="1.0" >10</text>
<text transform="translate(1067.51,452.1) scale(0.245,0.238)" font-size="100" fill="#262626" stroke="#262626" stroke-width="1.0" >0</text>
<line x1="1098" y1="419.3" x2="1098" y2="416.55" stroke="#262626" stroke-width="1.0" />
<line x1="1098" y1="13.55" x2="1098" y2="16.3" stroke="#262626" stroke-width="1.0" />
<line x1="1120.83" y1="419.3" x2="1120.83" y2="416.55" stroke="#262626" stroke-width="1.0" />
<line x1="1120.83" y1="13.55" x2="1120.83" y2="16.3" stroke="#262626" stroke-width="1.0" />
<line x1="1137.03" y1="419.3" x2="1137.03" y2="416.55" stroke="#262626" stroke-width="1.0" />
<line x1="1137.03" y1="13.55" x2="1137.03" y2="16.3" stroke="#262626" stroke-width="1.0" />
<line x1="1149.6" y1="419.3" x2="1149.6" y2="416.55" stroke="#262626" stroke-width="1.0" />
<line x1="1149.6" y1="13.55" x2="1149.6" y2="16.3" stroke="#262626" stroke-width="1.0" />
<line x1="1159.87" y1="419.3" x2="1159.87" y2="416.55" stroke="#262626" stroke-width="1.0" />
<line x1="1159.87" y1="13.55" x2="1159.87" y2="16.3" stroke="#262626" stroke-width="1.0" />
<line x1="1168.55" y1="419.3" x2="1168.55" y2="416.55" stroke="#262626" stroke-width="1.0" />
<line x1="1168.55" y1="13.55" x2="1168.55" y2="16.3" stroke="#262626" stroke-width="1.0" />
<line x1="1176.07" y1="419.3" x2="1176.07" y2="416.55" stroke="#262626" stroke-width="1.0" />
<line x1="1176.07" y1="13.55" x2="1176.07" y2="16.3" stroke="#262626" stroke-width="1.0" />
<line x1="1182.7" y1="419.3" x2="1182.7" y2="416.55" stroke="#262626" stroke-width="1.0" />
<line x1="1182.7" y1="13.55" x2="1182.7" y2="16.3" stroke="#262626" stroke-width="1.0" />
<line x1="1188.63" y1="419.3" x2="1188.63" y2="413.8" stroke="#262626" stroke-width="1.0" />
<line x1="1188.63" y1="13.55" x2="1188.63" y2="19.05" stroke="#262626" stroke-width="1.0" />
<text transform="translate(1164.17,466) scale(0.295,0.301)" font-size="100" fill="#262626" stroke="#262626" stroke-width="1.0" >10</text>
<text transform="translate(1196.2,452.1) scale(0.245,0.238)" font-size="100" fill="#262626" stroke="#262626" stroke-width="1.0" >1</text>
<line x1="1227.67" y1="419.3" x2="1227.67" y2="416.55" stroke="#262626" stroke-width="1.0" />
<line x1="1227.67" y1="13.55" x2="1227.67" y2="16.3" stroke="#262626" stroke-width="1.0" />
<line x1="1250.5" y1="419.3" x2="1250.5" y2="416.55" stroke="#262626" stroke-width="1.0" />
<line x1="1250.5" y1="13.55" x2="1250.5" y2="16.3" stroke="#262626" stroke-width="1.0" />
<line x1="1266.7" y1="419.3" x2="1266.7" y2="416.55" stroke="#262626" stroke-width="1.0" />
<line x1="1266.7" y1="13.55" x2="1266.7" y2="16.3" stroke="#262626" stroke-width="1.0" />
<line x1="1279.27" y1="419.3" x2="1279.27" y2="416.55" stroke="#262626" stroke-width="1.0" />
<line x1="1279.27" y1="13.55" x2="1279.27" y2="16.3" stroke="#262626" stroke-width="1.0" />
<line x1="1289.53" y1="419.3" x2="1289.53" y2="416.55" stroke="#262626" stroke-width="1.0" />
<line x1="1289.53" y1="13.55" x2="1289.53" y2="16.3" stroke="#262626" stroke-width="1.0" />
<line x1="1298.21" y1="419.3" x2="1298.21" y2="416.55" stroke="#262626" stroke-width="1.0" />
<line x1="1298.21" y1="13.55" x2="1298.21" y2="16.3" stroke="#262626" stroke-width="1.0" />
<line x1="1305.73" y1="419.3" x2="1305.73" y2="416.55" stroke="#262626" stroke-width="1.0" />
<line x1="1305.73" y1="13.55" x2="1305.73" y2="16.3" stroke="#262626" stroke-width="1.0" />
<line x1="1312.37" y1="419.3" x2="1312.37" y2="416.55" stroke="#262626" stroke-width="1.0" />
<line x1="1312.37" y1="13.55" x2="1312.37" y2="16.3" stroke="#262626" stroke-width="1.0" />
<line x1="1318.3" y1="419.3" x2="1318.3" y2="413.8" stroke="#262626" stroke-width="1.0" />
<line x1="1318.3" y1="13.55" x2="1318.3" y2="19.05" stroke="#262626" stroke-width="1.0" />
<text transform="translate(1293.83,466) scale(0.295,0.301)" font-size="100" fill="#262626" stroke="#262626" stroke-width="1.0" >10</text>
<text transform="translate(1326.36,452.1) scale(0.245,0.238)" font-size="100" fill="#262626" stroke="#262626" stroke-width="1.0" >2</text>
<line x1="760.6" y1="419.3" x2="766.1" y2="419.3" stroke="#262626" stroke-width="1.0" />
<line x1="1318.3" y1="419.3" x2="1312.8" y2="419.3" stroke="#262626" stroke-width="1.0" />
<text transform="translate(735.26,430.6) scale(0.295,0.301)" font-size="100" fill="#262626" stroke="#262626" stroke-width="1.0" >0</text>
<line x1="760.6" y1="351.68" x2="766.1" y2="351.68" stroke="#262626" stroke-width="1.0" />
<line x1="1318.3" y1="351.68" x2="1312.8" y2="351.68" stroke="#262626" stroke-width="1.0" />
<text transform="translate(735.26,362.98) scale(0.295,0.301)" font-size="100" fill="#262626" stroke="#262626" stroke-width="1.0" >5</text>
<line x1="760.6" y1="284.05" x2="766.1" y2="284.05" stroke="#262626" stroke-width="1.0" />
<line x1="1318.3" y1="284.05" x2="1312.8" y2="284.05" stroke="#262626" stroke-width="1.0" />
<text transform="translate(718.74,295.35) scale(0.295,0.301)" font-size="100" fill="#262626" stroke="#262626" stroke-width="1.0" >10</text>
<line x1="760.6" y1="216.43" x2="766.1" y2="216.43" stroke="#262626" stroke-width="1.0" />
<line x1="1318.3" y1="216.43" x2="1312.8" y2="216.43" stroke="#262626" stroke-width="1.0" />
<text transform="translate(719.04,227.73) scale(0.295,0.301)" font-size="100" fill="#262626" stroke="#262626" stroke-width="1.0" >15</text>
<line x1="760.6" y1="148.8" x2="766.1" y2="148.8" stroke="#262626" stroke-width="1.0" />
<line x1="1318.3" y1="148.8" x2="1312.8" y2="148.8" stroke="#262626" stroke-width="1.0" />
<text transform="translate(718.74,160.1) scale(0.295,0.301)" font-size="100" fill="#262626" stroke="#262626" stroke-width="1.0" >20</text>
<line x1="760.6" y1="81.18" x2="766.1" y2="81.18" stroke="#262626" stroke-width="1.0" />
<line x1="1318.3" y1="81.18" x2="1312.8" y2="81.18" stroke="#262626" stroke-width="1.0" />
<text transform="translate(719.04,92.48) scale(0.295,0.301)" font-size="100" fill="#262626" stroke="#262626" stroke-width="1.0" >25</text>
<line x1="760.6" y1="13.55" x2="766.1" y2="13.55" stroke="#262626" stroke-width="1.0" />
<line x1="1318.3" y1="13.55" x2="1312.8" y2="13.55" stroke="#262626" stroke-width="1.0" />
<text transform="translate(718.74,24.85) scale(0.295,0.301)" font-size="100" fill="#262626" stroke="#262626" stroke-width="1.0" >30</text>
<path d="M760.6,265 L762.09,265.05 L763.57,265.09 L765.06,265.13 L766.55,265.17 L768.04,265.21 L769.53,265.25 L771.02,265.29 L772.5,265.32 L773.99,265.35 L775.48,265.39 L776.98,265.42 L778.47,265.45 L779.96,265.47 L781.45,265.5 L782.94,265.52 L784.44,265.55 L785.93,265.57 L787.42,265.59 L788.92,265.61 L790.41,265.63 L791.9,265.64 L793.4,265.66 L794.89,265.68 L796.39,265.69 L797.89,265.7 L799.38,265.71 L800.88,265.72 L802.37,265.73 L803.87,265.74 L805.37,265.75 L806.87,265.76 L808.36,265.76 L809.86,265.77 L811.36,265.77 L812.86,265.78 L814.36,265.78 L815.86,265.78 L817.36,265.78 L818.86,265.79 L820.36,265.79 L821.86,265.79 L823.36,265.78 L824.86,265.78 L826.36,265.78 L827.86,265.78 L829.36,265.78 L830.86,265.77 L832.37,265.77 L833.87,265.76 L835.37,265.76 L836.87,265.76 L838.38,265.75 L839.88,265.74 L841.38,265.74 L842.88,265.73 L844.39,265.73 L845.89,265.72 L847.39,265.72 L848.9,265.71 L850.4,265.7 L851.91,265.7 L853.41,265.69 L854.91,265.68 L856.42,265.68 L857.92,265.67 L859.43,265.66 L860.93,265.66 L862.44,265.65 L863.94,265.65 L865.45,265.64 L866.95,265.64 L868.46,265.63 L869.96,265.63 L871.47,265.62 L872.97,265.62 L874.48,265.62 L875.99,265.61 L877.49,265.61 L879,265.61 L880.5,265.61 L882.01,265.61 L883.51,265.61 L885.02,265.61 L886.52,265.61 L888.03,265.61 L889.54,265.61 L891.04,265.61 L892.55,265.62 L894.05,265.62 L895.56,265.63 L897.06,265.63 L898.57,265.64 L900.08,265.65 L901.58,265.65 L903.09,265.66 L904.59,265.67 L906.1,265.69 L907.6,265.7 L909.11,265.71 L910.61,265.73 L912.12,265.74 L913.62,265.76 L915.13,265.78 L916.63,265.8 L918.14,265.82 L919.64,265.84 L921.15,265.86 L922.65,265.89 L924.16,265.91 L925.66,265.94 L927.17,265.97 L928.67,266 L930.17,266.03 L931.68,266.06 L933.18,266.1 L934.68,266.13 L936.19,266.17 L937.69,266.21 L939.19,266.25 L940.7,266.29 L942.2,266.33 L943.7,266.38 L945.2,266.43 L946.7,266.48 L948.21,266.53 L949.71,266.58 L951.21,266.63 L952.71,266.69 L954.21,266.75 L955.71,266.81 L957.21,266.87 L958.71,266.94 L960.21,267 L961.71,267.07 L963.21,267.14 L964.71,267.21 L966.21,267.29 L967.71,267.36 L969.21,267.44 L970.71,267.53 L972.2,267.61 L973.7,267.69 L975.2,267.78 L976.69,267.87 L978.19,267.97 L979.69,268.06 L981.18,268.16 L982.68,268.26 L984.17,268.36 L985.67,268.47 L987.16,268.57 L988.66,268.68 L990.15,268.8 L991.65,268.91 L993.14,269.03 L994.63,269.15 L996.12,269.27 L997.62,269.4 L999.11,269.53 L1000.6,269.66 L1002.09,269.8 L1003.58,269.93 L1005.07,270.07 L1006.56,270.22 L1008.05,270.36 L1009.54,270.51 L1011.03,270.66 L1012.52,270.82 L1014,270.98 L1015.49,271.14 L1016.98,271.3 L1018.46,271.47 L1019.95,271.64 L1021.44,271.81 L1022.92,271.99 L1024.4,272.17 L1025.89,272.35 L1027.37,272.54 L1028.86,272.73 L1030.34,272.92 L1031.82,273.12 L1033.3,273.32 L1034.78,273.53 L1036.26,273.73 L1037.74,273.94 L1039.22,274.16 L1040.7,274.38 L1042.18,274.6 L1043.66,274.82 L1045.13,275.05 L1046.61,275.28 L1048.09,275.52 L1049.56,275.76 L1051.04,276 L1052.51,276.25 L1053.99,276.5 L1055.46,276.76 L1056.93,277.02 L1058.4,277.28 L1059.88,277.55 L1061.35,277.82 L1062.82,278.09 L1064.29,278.37 L1065.76,278.65 L1067.22,278.94 L1068.69,279.23 L1070.16,279.53 L1071.63,279.82 L1073.09,280.13 L1074.56,280.44 L1076.02,280.75 L1077.49,281.06 L1078.95,281.38 L1080.41,281.71 L1081.87,282.04 L1083.34,282.37 L1084.8,282.71 L1086.26,283.05 L1087.71,283.4 L1089.17,283.75 L1090.63,284.11 L1092.09,284.47 L1093.54,284.83 L1095,285.2 L1096.45,285.58 L1097.91,285.96 L1099.36,286.34 L1100.81,286.73 L1102.27,287.12 L1103.72,287.52 L1105.17,287.92 L1106.62,288.33 L1108.07,288.74 L1109.51,289.16 L1110.96,289.58 L1112.41,290.01 L1113.85,290.44 L1115.3,290.88 L1116.74,291.32 L1118.19,291.77 L1119.63,292.22 L1120.5,292.5 L1121.85,293.14 L1123.21,293.77 L1124.56,294.41 L1125.91,295.05 L1127.26,295.69 L1128.61,296.34 L1129.96,296.99 L1131.31,297.64 L1132.65,298.3 L1134,298.95 L1135.34,299.61 L1136.69,300.28 L1138.03,300.94 L1139.37,301.61 L1140.71,302.28 L1142.06,302.95 L1143.4,303.62 L1144.73,304.29 L1146.07,304.97 L1147.41,305.64 L1148.75,306.32 L1150.09,307 L1151.42,307.68 L1152.76,308.37 L1154.1,309.05 L1155.43,309.73 L1156.77,310.42 L1158.1,311.1 L1159.44,311.79 L1160.77,312.47 L1162.11,313.16 L1163.44,313.85 L1164.78,314.54 L1166.11,315.22 L1167.45,315.91 L1168.78,316.6 L1170.12,317.28 L1171.45,317.97 L1172.79,318.66 L1174.13,319.34 L1175.46,320.03 L1176.8,320.71 L1178.14,321.39 L1179.47,322.08 L1180.81,322.76 L1182.15,323.44 L1183.49,324.12 L1184.83,324.79 L1186.17,325.47 L1187.51,326.14 L1188.85,326.82 L1190.19,327.49 L1191.53,328.16 L1192.88,328.82 L1194.22,329.49 L1195.57,330.15 L1196.91,330.81 L1198.26,331.47 L1199.61,332.12 L1200.96,332.78 L1202.31,333.43 L1203.66,334.07 L1205.01,334.72 L1206.37,335.36 L1207.72,336 L1209.08,336.63 L1210.44,337.27 L1211.8,337.89 L1213.16,338.52 L1214.52,339.14 L1215.89,339.76 L1217.25,340.37 L1218.62,340.98 L1219.99,341.59 L1221.36,342.19 L1222.73,342.79 L1224.1,343.38 L1225.48,343.97 L1226.85,344.55 L1228.23,345.13 L1229.62,345.7 L1231,346.27 L1232.38,346.84 L1233.77,347.4 L1235.16,347.95 L1236.55,348.5 L1237.94,349.04 L1239.34,349.58 L1240.74,350.12 L1242.14,350.64 L1243.54,351.16 L1244.94,351.68 L1246.35,352.19 L1247.76,352.69 L1249.17,353.19 L1250.59,353.68 L1252,354.16 L1253.42,354.64 L1254.85,355.11 L1256.27,355.58 L1257.7,356.04 L1259.13,356.49 L1260.56,356.93 L1262,357.37 L1263.44,357.8 L1264.88,358.22 L1266.32,358.63 L1267.77,359.04 L1269.22,359.44 L1270.67,359.83 L1272.13,360.22 L1273.59,360.59 L1275.05,360.96 L1276.52,361.32 L1277.99,361.67 L1279.4,362" fill="none" stroke="#3769b1" stroke-width="4.3" stroke-linejoin="round" stroke-linecap="butt"/>
<path d="M760.6,184.8 L762.08,184.8 L763.56,184.8 L765.03,184.8 L766.51,184.81 L767.99,184.81 L769.47,184.81 L770.96,184.81 L772.44,184.81 L773.92,184.81 L775.41,184.81 L776.89,184.82 L778.38,184.82 L779.86,184.82 L781.35,184.83 L782.84,184.83 L784.33,184.84 L785.82,184.84 L787.31,184.85 L788.8,184.85 L790.29,184.86 L791.78,184.87 L793.27,184.88 L794.77,184.89 L796.26,184.9 L797.76,184.91 L799.25,184.92 L800.75,184.93 L802.25,184.94 L803.74,184.96 L805.24,184.97 L806.74,184.98 L808.24,185 L809.74,185.02 L811.24,185.04 L812.74,185.05 L814.24,185.07 L815.74,185.09 L817.24,185.12 L818.74,185.14 L820.24,185.16 L821.75,185.19 L823.25,185.22 L824.75,185.24 L826.26,185.27 L827.76,185.3 L829.27,185.33 L830.77,185.37 L832.28,185.4 L833.78,185.43 L835.29,185.47 L836.79,185.51 L838.3,185.55 L839.81,185.59 L841.31,185.63 L842.82,185.68 L844.33,185.72 L845.83,185.77 L847.34,185.82 L848.85,185.87 L850.36,185.92 L851.87,185.97 L853.37,186.02 L854.88,186.08 L856.39,186.14 L857.9,186.2 L859.41,186.26 L860.91,186.33 L862.42,186.39 L863.93,186.46 L865.44,186.53 L866.95,186.6 L868.46,186.67 L869.96,186.75 L871.47,186.82 L872.98,186.9 L874.49,186.98 L876,187.07 L877.5,187.15 L879.01,187.24 L880.52,187.33 L882.03,187.42 L883.54,187.51 L885.04,187.61 L886.55,187.71 L888.06,187.81 L889.56,187.91 L891.07,188.02 L892.57,188.12 L894.08,188.23 L895.59,188.35 L897.09,188.46 L898.6,188.58 L900.1,188.7 L901.6,188.82 L903.11,188.94 L904.61,189.07 L906.12,189.2 L907.62,189.33 L909.12,189.47 L910.62,189.6 L912.12,189.74 L913.63,189.89 L915.13,190.03 L916.63,190.18 L918.13,190.33 L919.63,190.49 L921.12,190.64 L922.62,190.8 L924.12,190.97 L925.62,191.13 L927.11,191.3 L928.61,191.47 L930.11,191.65 L931.6,191.82 L933.09,192 L934.59,192.19 L936.08,192.37 L937.57,192.56 L939.07,192.76 L940.56,192.95 L942.05,193.15 L943.54,193.36 L945.02,193.56 L946.51,193.77 L948,193.98 L949.49,194.2 L950.97,194.42 L952.46,194.64 L953.94,194.87 L955.42,195.09 L956.91,195.33 L958.39,195.56 L959.87,195.8 L961.35,196.05 L962.83,196.29 L964.31,196.54 L965.78,196.8 L967.26,197.06 L968.74,197.32 L970.21,197.58 L971.68,197.85 L973.16,198.12 L974.63,198.4 L976.1,198.68 L977.57,198.96 L979.04,199.25 L980.5,199.54 L981.97,199.84 L983.43,200.14 L984.9,200.44 L986.36,200.75 L987.82,201.06 L989.28,201.38 L990.74,201.69 L992.2,202.02 L993.66,202.35 L995.12,202.68 L996.57,203.01 L998.02,203.35 L999.48,203.7 L1000.93,204.05 L1002.38,204.4 L1003.83,204.76 L1005.27,205.12 L1006.72,205.48 L1008.17,205.85 L1009.61,206.23 L1011.05,206.61 L1012.49,206.99 L1013.93,207.38 L1015.37,207.77 L1016.81,208.17 L1018.24,208.57 L1019.67,208.98 L1021.11,209.39 L1022.54,209.8 L1023.97,210.22 L1025.39,210.65 L1026.82,211.07 L1028.25,211.51 L1029.67,211.95 L1031.09,212.39 L1032.51,212.84 L1033.93,213.29 L1035.35,213.75 L1036.76,214.21 L1038.18,214.68 L1039.59,215.15 L1041,215.63 L1042.41,216.11 L1043.82,216.6 L1045.22,217.09 L1046.63,217.59 L1048.03,218.09 L1049.43,218.6 L1050.83,219.11 L1052.23,219.63 L1053.62,220.15 L1055.01,220.68 L1056.41,221.21 L1057.8,221.75 L1059.18,222.29 L1060.57,222.84 L1061.95,223.39 L1063.34,223.95 L1064.72,224.51 L1066.1,225.08 L1067.47,225.65 L1068.85,226.23 L1070.22,226.82 L1071.59,227.41 L1072.96,228 L1074.33,228.6 L1075.69,229.21 L1077.05,229.82 L1078.41,230.43 L1079.77,231.06 L1081.13,231.68 L1082.48,232.31 L1083.83,232.95 L1085.18,233.6 L1086.53,234.24 L1087.88,234.9 L1089.22,235.56 L1090.56,236.22 L1091.9,236.89 L1093.24,237.57 L1094.57,238.25 L1095.9,238.94 L1097.23,239.63 L1098.56,240.33 L1099.89,241.03 L1101.21,241.74 L1102.53,242.46 L1103.85,243.18 L1105.16,243.91 L1106.48,244.64 L1107.79,245.38 L1109.09,246.12 L1110.4,246.87 L1111.7,247.62 L1113.01,248.39 L1114.3,249.15 L1115.6,249.92 L1116.89,250.7 L1118.18,251.49 L1119.47,252.28 L1120.76,253.07 L1122.04,253.88 L1123.32,254.68 L1124.6,255.5 L1125.87,256.32 L1127.15,257.14 L1128.42,257.98 L1129.68,258.81 L1130.95,259.66 L1132.21,260.51 L1133.47,261.36 L1134.73,262.23 L1135.98,263.09 L1137.23,263.97 L1138,264.51 L1139.02,265.61 L1140.04,266.71 L1141.07,267.8 L1142.11,268.88 L1143.16,269.95 L1144.22,271.02 L1145.28,272.08 L1146.35,273.13 L1147.43,274.17 L1148.51,275.2 L1149.6,276.22 L1150.7,277.24 L1151.81,278.25 L1152.93,279.25 L1154.05,280.24 L1155.18,281.22 L1156.32,282.2 L1157.47,283.17 L1158.62,284.13 L1159.78,285.08 L1160.95,286.02 L1162.12,286.95 L1163.31,287.88 L1164.5,288.8 L1165.7,289.71 L1166.9,290.61 L1168.12,291.5 L1169.34,292.38 L1169.5,292.5 L1170.45,293.68 L1171.41,294.85 L1172.38,296.01 L1173.36,297.16 L1174.36,298.29 L1175.36,299.42 L1176.37,300.53 L1177.39,301.63 L1178.42,302.72 L1179.46,303.81 L1180.51,304.88 L1181.57,305.93 L1182.64,306.98 L1183.72,308.02 L1184.8,309.05 L1185.9,310.07 L1187,311.07 L1188.11,312.07 L1189.23,313.06 L1190.36,314.03 L1191.5,315 L1192.64,315.96 L1193.79,316.91 L1194.95,317.84 L1196.12,318.77 L1197.3,319.69 L1198.48,320.6 L1199.67,321.5 L1200.87,322.39 L1202.07,323.27 L1203.28,324.14 L1204.5,325 L1205.73,325.85 L1206.96,326.7 L1208.2,327.53 L1209.44,328.36 L1210.69,329.18 L1211.95,329.99 L1213.21,330.79 L1214.48,331.58 L1215.75,332.36 L1217.03,333.14 L1218.32,333.91 L1219.61,334.66 L1220.91,335.42 L1222.21,336.16 L1223.51,336.89 L1224.82,337.62 L1226.14,338.34 L1227.46,339.05 L1228.79,339.76 L1230.12,340.45 L1231.45,341.14 L1232.79,341.82 L1234.13,342.5 L1235.48,343.17 L1236.83,343.83 L1238.18,344.48 L1239.54,345.13 L1240.9,345.76 L1242.27,346.4 L1243.63,347.02 L1245,347.64 L1246.38,348.25 L1247.75,348.86 L1249.13,349.46 L1250.52,350.05 L1251.9,350.64 L1253.29,351.22 L1254.68,351.8 L1256.07,352.36 L1257.46,352.93 L1258.86,353.48 L1260.26,354.03 L1261.65,354.58 L1263.06,355.12 L1264.46,355.65 L1265.86,356.18 L1267.27,356.7 L1268.67,357.22 L1270.08,357.73 L1271.49,358.24 L1272.89,358.74 L1274.3,359.24 L1275.71,359.73 L1277.12,360.22 L1278.53,360.7 L1279.4,361" fill="none" stroke="#d9792b" stroke-width="4.3" stroke-linejoin="round" stroke-linecap="butt"/>
<path d="M760.6,76.2 L762.08,76.19 L763.57,76.17 L765.05,76.16 L766.54,76.14 L768.03,76.13 L769.52,76.13 L771.01,76.12 L772.5,76.12 L773.99,76.11 L775.48,76.11 L776.97,76.12 L778.47,76.12 L779.96,76.13 L781.45,76.14 L782.95,76.15 L784.45,76.16 L785.94,76.18 L787.44,76.2 L788.94,76.22 L790.44,76.24 L791.93,76.27 L793.43,76.3 L794.93,76.33 L796.43,76.36 L797.93,76.4 L799.44,76.44 L800.94,76.48 L802.44,76.53 L803.94,76.57 L805.44,76.62 L806.95,76.68 L808.45,76.73 L809.95,76.79 L811.46,76.85 L812.96,76.92 L814.46,76.98 L815.97,77.05 L817.47,77.13 L818.98,77.2 L820.48,77.28 L821.98,77.36 L823.49,77.45 L824.99,77.54 L826.5,77.63 L828,77.72 L829.51,77.82 L831.01,77.92 L832.51,78.02 L834.02,78.13 L835.52,78.24 L837.03,78.36 L838.53,78.47 L840.03,78.6 L841.54,78.72 L843.04,78.85 L844.54,78.98 L846.04,79.11 L847.54,79.25 L849.05,79.4 L850.55,79.54 L852.05,79.69 L853.55,79.84 L855.05,80 L856.55,80.16 L858.05,80.32 L859.54,80.49 L861.04,80.66 L862.54,80.84 L864.03,81.02 L865.53,81.2 L867.03,81.39 L868.52,81.58 L870.01,81.78 L871.51,81.98 L873,82.18 L874.49,82.39 L875.98,82.6 L877.47,82.81 L878.96,83.03 L880.45,83.26 L881.94,83.49 L883.42,83.72 L884.91,83.96 L886.4,84.2 L887.88,84.44 L889.36,84.69 L890.84,84.95 L892.32,85.2 L893.8,85.47 L895.28,85.74 L896.76,86.01 L898.24,86.28 L899.71,86.56 L901.19,86.85 L902.66,87.14 L904.13,87.44 L905.6,87.74 L907.07,88.04 L908.54,88.35 L910,88.66 L911.47,88.98 L912.93,89.3 L914.4,89.63 L915.86,89.97 L917.32,90.3 L918.77,90.65 L920.23,91 L921.69,91.35 L923.14,91.71 L924.59,92.07 L926.04,92.44 L927.49,92.81 L928.94,93.19 L930.38,93.57 L931.83,93.96 L933.27,94.36 L934.71,94.75 L936.15,95.16 L937.59,95.57 L939.02,95.98 L940.46,96.4 L941.89,96.83 L943.32,97.26 L944.75,97.7 L946.17,98.14 L947.6,98.59 L949.02,99.04 L950.44,99.5 L951.86,99.97 L953.27,100.44 L954.69,100.91 L956.1,101.39 L957.51,101.88 L958.92,102.37 L960.32,102.87 L961.73,103.38 L963.13,103.89 L964.53,104.4 L965.92,104.92 L967.32,105.45 L968.71,105.99 L970.1,106.53 L971.49,107.07 L972.87,107.62 L974.26,108.18 L975.64,108.75 L977.02,109.32 L978.39,109.89 L979.77,110.48 L981.14,111.06 L982.5,111.66 L983.87,112.26 L985.23,112.87 L986.59,113.48 L987.95,114.1 L989.31,114.73 L990.66,115.36 L992.01,116 L993.36,116.65 L994.7,117.3 L996.05,117.96 L997.39,118.62 L998.72,119.3 L1000.06,119.98 L1001.39,120.66 L1002.71,121.35 L1004.04,122.05 L1005.36,122.76 L1006.68,123.47 L1008,124.18 L1009.31,124.91 L1010.62,125.64 L1011.93,126.38 L1013.24,127.12 L1014.54,127.87 L1015.84,128.62 L1017.13,129.38 L1018.42,130.15 L1019.71,130.92 L1021,131.7 L1022.29,132.48 L1023.57,133.27 L1024.84,134.06 L1026.12,134.86 L1027.39,135.67 L1028.66,136.48 L1029.92,137.3 L1031.18,138.12 L1032.44,138.95 L1033.7,139.78 L1034.95,140.61 L1036.2,141.46 L1037.45,142.3 L1038.69,143.16 L1039.93,144.01 L1041.17,144.87 L1042.4,145.74 L1043.63,146.61 L1044.85,147.49 L1046.08,148.37 L1047.3,149.25 L1048.51,150.14 L1049.73,151.04 L1050.94,151.93 L1052.14,152.84 L1053.35,153.74 L1054.55,154.65 L1055.74,155.57 L1056.93,156.49 L1058.12,157.41 L1059.31,158.34 L1060.49,159.27 L1061.67,160.2 L1062.85,161.14 L1064.02,162.08 L1065.19,163.02 L1066.35,163.97 L1067.51,164.93 L1068.67,165.88 L1069.82,166.84 L1070.97,167.8 L1072.12,168.77 L1073.26,169.74 L1074.4,170.71 L1075.54,171.68 L1076.67,172.66 L1077.8,173.64 L1078.92,174.63 L1080.04,175.61 L1081.16,176.6 L1082.27,177.6 L1083.38,178.59 L1084.49,179.59 L1085.59,180.59 L1086.69,181.59 L1087.79,182.6 L1088.5,183.25 L1089.08,184.65 L1089.68,186.04 L1090.31,187.41 L1090.95,188.78 L1091.6,190.13 L1092.28,191.47 L1092.97,192.79 L1093.69,194.11 L1094.41,195.41 L1095.16,196.7 L1095.92,197.98 L1096.69,199.26 L1097.48,200.52 L1098.29,201.77 L1099.11,203.01 L1099.94,204.24 L1100.79,205.46 L1101.65,206.67 L1102.53,207.88 L1103.41,209.07 L1104.31,210.26 L1105.22,211.44 L1106.15,212.61 L1107.08,213.77 L1108.02,214.92 L1108.98,216.07 L1109.94,217.21 L1110.92,218.34 L1111.9,219.47 L1112.9,220.59 L1113.9,221.7 L1114.91,222.81 L1115.93,223.91 L1116.95,225.01 L1117.98,226.1 L1119.02,227.19 L1120.07,228.27 L1121.12,229.34 L1122.18,230.42 L1123.24,231.48 L1124.31,232.55 L1125.38,233.61 L1126.45,234.67 L1127.53,235.72 L1128.62,236.77 L1129.7,237.82 L1130.79,238.86 L1131.88,239.91 L1132.98,240.95 L1134.07,241.99 L1135.17,243.02 L1136.26,244.06 L1137.36,245.09 L1138.46,246.13 L1139.56,247.16 L1140.65,248.19 L1141.75,249.22 L1142.84,250.25 L1143.94,251.29 L1145.03,252.32 L1146.12,253.35 L1147.2,254.39 L1148.29,255.42 L1149.36,256.46 L1150.44,257.5 L1151.51,258.54 L1152.58,259.58 L1153.64,260.62 L1154.69,261.67 L1155.74,262.72 L1156.79,263.77 L1157.82,264.82 L1158,265 L1158.84,266.25 L1159.69,267.49 L1160.55,268.72 L1161.43,269.94 L1162.32,271.14 L1163.22,272.34 L1164.14,273.53 L1165.06,274.7 L1166,275.87 L1166.95,277.02 L1167.92,278.17 L1168.9,279.3 L1169.89,280.43 L1170.89,281.54 L1171.9,282.64 L1172.93,283.73 L1173.97,284.81 L1175.02,285.89 L1176.09,286.95 L1177.17,288 L1178.26,289.04 L1179.36,290.06 L1180.47,291.08 L1181.5,292 L1182.32,293.27 L1183.16,294.54 L1184.02,295.78 L1184.89,297.02 L1185.77,298.24 L1186.67,299.45 L1187.58,300.64 L1188.5,301.83 L1189.44,303 L1190.38,304.16 L1191.35,305.3 L1192.32,306.44 L1193.31,307.56 L1194.31,308.67 L1195.32,309.76 L1196.34,310.85 L1197.38,311.92 L1198.42,312.98 L1199.48,314.03 L1200.55,315.07 L1201.63,316.1 L1202.72,317.11 L1203.82,318.11 L1204.93,319.11 L1206.05,320.09 L1207.19,321.06 L1208.33,322.01 L1209.48,322.96 L1210.64,323.9 L1211.81,324.82 L1212.99,325.74 L1214.18,326.64 L1215.37,327.54 L1216.58,328.42 L1217.79,329.29 L1219.02,330.15 L1220.25,331.01 L1221.48,331.85 L1222.73,332.68 L1223.98,333.5 L1225.24,334.31 L1226.51,335.11 L1227.78,335.9 L1229.07,336.69 L1230.35,337.46 L1231.65,338.22 L1232.95,338.98 L1234.26,339.72 L1235.57,340.45 L1236.89,341.18 L1238.21,341.9 L1239.54,342.6 L1240.87,343.3 L1242.21,343.99 L1243.55,344.67 L1244.9,345.35 L1246.26,346.01 L1247.61,346.66 L1248.97,347.31 L1250.34,347.95 L1251.71,348.58 L1253.08,349.2 L1254.45,349.81 L1255.83,350.42 L1257.21,351.02 L1258.6,351.6 L1259.98,352.19 L1261.37,352.76 L1262.76,353.33 L1264.15,353.88 L1265.55,354.44 L1266.95,354.98 L1268.34,355.52 L1269.74,356.05 L1271.14,356.57 L1272.54,357.08 L1273.95,357.59 L1275.35,358.09 L1276.75,358.59 L1278.15,359.07 L1279.4,359.5" fill="none" stroke="#3c9650" stroke-width="4.3" stroke-linejoin="round" stroke-linecap="butt"/>
<path d="M929,15.85V28.75 M929,36.4V49.3 M929,56.95V69.85 M929,77.5V90.4 M929,98.05V110.95 M929,118.6V131.5 M929,139.15V152.05 M929,159.7V172.6 M929,180.25V193.15 M929,200.8V213.7 M929,221.35V234.25 M929,241.9V254.8 M929,262.45V275.35 M929,283V295.9 M929,303.55V316.45 M929,324.1V337 M929,344.65V357.55 M929,365.2V378.1 M929,385.75V398.65 M929,406.3V419.2" fill="none" stroke="#000" stroke-width="2.2"/>
<text transform="translate(771.41,62) scale(0.3701,0.3949)" font-size="100" fill="#3c9650" stroke="#3c9650" stroke-width="1.0" >1000 eV</text>
<text transform="translate(770.83,172.1) scale(0.3721,0.3949)" font-size="100" fill="#d9792b" stroke="#d9792b" stroke-width="1.0" >300 eV</text>
<text transform="translate(770.61,252.7) scale(0.3694,0.3949)" font-size="100" fill="#3769b1" stroke="#3769b1" stroke-width="1.0" >100 eV</text>
<text transform="translate(825.48,363.7) scale(0.3402,0.3584)" font-size="100" fill="#000" stroke="#000" stroke-width="1.0" >Laser</text>
<text transform="translate(831.55,406.3) scale(0.3386,0.3584)" font-size="100" fill="#000" stroke="#000" stroke-width="1.0" >ends</text>
<text transform="translate(1270.65,58.85) scale(0.464,0.4619)" font-size="100" fill="#000" font-weight="bold">b</text>
<text transform="translate(972.85,505.2) scale(0.3273,0.3293)" font-size="100" fill="#262626" stroke="#262626" stroke-width="1.0" >Time [ps]</text>
<text transform="translate(700.8,361.86) rotate(-90) scale(0.373,0.407)" font-size="100" fill="#000" stroke="#000" stroke-width="1.0" >Ionization State,</text>
<text transform="translate(700.8,83.3) rotate(-90) scale(0.3632,0.4062)" font-size="100" fill="#000" stroke="#000" stroke-width="1.6" font-style="italic" font-family="Liberation Serif, serif">Z</text>
<line x1="669.5" y1="60.4" x2="669.5" y2="74.6" stroke="#000" stroke-width="2.5" />
<rect x="1452.7" y="14.6" width="532.5" height="412.25" fill="none" stroke="#262626" stroke-width="0.9"/>
<line x1="1452.7" y1="426.85" x2="1452.7" y2="421.55" stroke="#262626" stroke-width="1.0" />
<line x1="1452.7" y1="14.6" x2="1452.7" y2="19.9" stroke="#262626" stroke-width="1.0" />
<text transform="translate(1444.59,464.25) scale(0.295,0.301)" font-size="100" fill="#262626" stroke="#262626" stroke-width="1.0" >0</text>
<line x1="1559.2" y1="426.85" x2="1559.2" y2="421.55" stroke="#262626" stroke-width="1.0" />
<line x1="1559.2" y1="14.6" x2="1559.2" y2="19.9" stroke="#262626" stroke-width="1.0" />
<text transform="translate(1542.24,464.25) scale(0.295,0.301)" font-size="100" fill="#262626" stroke="#262626" stroke-width="1.0" >10</text>
<line x1="1665.7" y1="426.85" x2="1665.7" y2="421.55" stroke="#262626" stroke-width="1.0" />
<line x1="1665.7" y1="14.6" x2="1665.7" y2="19.9" stroke="#262626" stroke-width="1.0" />
<text transform="translate(1649.03,464.25) scale(0.295,0.301)" font-size="100" fill="#262626" stroke="#262626" stroke-width="1.0" >20</text>
<line x1="1772.2" y1="426.85" x2="1772.2" y2="421.55" stroke="#262626" stroke-width="1.0" />
<line x1="1772.2" y1="14.6" x2="1772.2" y2="19.9" stroke="#262626" stroke-width="1.0" />
<text transform="translate(1755.83,464.25) scale(0.295,0.301)" font-size="100" fill="#262626" stroke="#262626" stroke-width="1.0" >30</text>
<line x1="1878.7" y1="426.85" x2="1878.7" y2="421.55" stroke="#262626" stroke-width="1.0" />
<line x1="1878.7" y1="14.6" x2="1878.7" y2="19.9" stroke="#262626" stroke-width="1.0" />
<text transform="translate(1862.48,464.25) scale(0.295,0.301)" font-size="100" fill="#262626" stroke="#262626" stroke-width="1.0" >40</text>
<line x1="1985.2" y1="426.85" x2="1985.2" y2="421.55" stroke="#262626" stroke-width="1.0" />
<line x1="1985.2" y1="14.6" x2="1985.2" y2="19.9" stroke="#262626" stroke-width="1.0" />
<text transform="translate(1968.68,464.25) scale(0.295,0.301)" font-size="100" fill="#262626" stroke="#262626" stroke-width="1.0" >50</text>
<line x1="1452.7" y1="426.85" x2="1458" y2="426.85" stroke="#262626" stroke-width="1.0" />
<line x1="1985.2" y1="426.85" x2="1979.9" y2="426.85" stroke="#262626" stroke-width="1.0" />
<text transform="translate(1427.76,438.35) scale(0.295,0.301)" font-size="100" fill="#262626" stroke="#262626" stroke-width="1.0" >0</text>
<line x1="1452.7" y1="344.4" x2="1458" y2="344.4" stroke="#262626" stroke-width="1.0" />
<line x1="1985.2" y1="344.4" x2="1979.9" y2="344.4" stroke="#262626" stroke-width="1.0" />
<text transform="translate(1411.24,355.9) scale(0.295,0.301)" font-size="100" fill="#262626" stroke="#262626" stroke-width="1.0" >20</text>
<line x1="1452.7" y1="261.95" x2="1458" y2="261.95" stroke="#262626" stroke-width="1.0" />
<line x1="1985.2" y1="261.95" x2="1979.9" y2="261.95" stroke="#262626" stroke-width="1.0" />
<text transform="translate(1411.24,273.45) scale(0.295,0.301)" font-size="100" fill="#262626" stroke="#262626" stroke-width="1.0" >40</text>
<line x1="1452.7" y1="179.5" x2="1458" y2="179.5" stroke="#262626" stroke-width="1.0" />
<line x1="1985.2" y1="179.5" x2="1979.9" y2="179.5" stroke="#262626" stroke-width="1.0" />
<text transform="translate(1411.24,191) scale(0.295,0.301)" font-size="100" fill="#262626" stroke="#262626" stroke-width="1.0" >60</text>
<line x1="1452.7" y1="97.05" x2="1458" y2="97.05" stroke="#262626" stroke-width="1.0" />
<line x1="1985.2" y1="97.05" x2="1979.9" y2="97.05" stroke="#262626" stroke-width="1.0" />
<text transform="translate(1411.24,108.55) scale(0.295,0.301)" font-size="100" fill="#262626" stroke="#262626" stroke-width="1.0" >80</text>
<line x1="1452.7" y1="14.6" x2="1458" y2="14.6" stroke="#262626" stroke-width="1.0" />
<line x1="1985.2" y1="14.6" x2="1979.9" y2="14.6" stroke="#262626" stroke-width="1.0" />
<text transform="translate(1395.01,26.1) scale(0.295,0.301)" font-size="100" fill="#262626" stroke="#262626" stroke-width="1.0" >100</text>
<path d="M1605.5,14.6V19 M1605.5,29.1V39.4 M1605.5,49.5V59.8 M1605.5,69.9V80.2 M1605.5,90.3V100.6 M1605.5,110.7V121 M1605.5,131.1V141.4 M1605.5,151.5V161.8 M1605.5,171.9V182.2 M1605.5,192.3V202.6 M1605.5,212.7V223 M1605.5,233.1V243.4 M1605.5,253.5V263.8 M1605.5,273.9V284.2 M1605.5,294.3V304.6 M1605.5,314.7V325 M1605.5,335.1V345.4 M1605.5,355.5V365.8 M1605.5,375.9V386.2 M1605.5,396.3V406.6 M1605.5,416.7V426.85" fill="none" stroke="#3769b1" stroke-width="2.5"/>
<path d="M1453,14.6 L1453.22,16.08 L1453.45,17.56 L1453.67,19.05 L1453.89,20.53 L1454.12,22.01 L1454.34,23.49 L1454.56,24.97 L1454.78,26.46 L1455,27.94 L1455.21,29.42 L1455.43,30.91 L1455.65,32.39 L1455.87,33.87 L1456.08,35.36 L1456.3,36.84 L1456.51,38.32 L1456.73,39.81 L1456.95,41.29 L1457.16,42.77 L1457.38,44.26 L1457.59,45.74 L1457.81,47.23 L1458.03,48.71 L1458.24,50.19 L1458.46,51.68 L1458.67,53.16 L1458.89,54.64 L1459.11,56.13 L1459.33,57.61 L1459.55,59.09 L1459.77,60.58 L1459.99,62.06 L1460.21,63.54 L1460.43,65.03 L1460.65,66.51 L1460.88,67.99 L1461.1,69.47 L1461.33,70.95 L1461.55,72.44 L1461.78,73.92 L1462.01,75.4 L1462.24,76.88 L1462.47,78.36 L1462.71,79.84 L1462.94,81.32 L1463.18,82.8 L1463.42,84.28 L1463.66,85.76 L1463.9,87.24 L1464.14,88.72 L1464.38,90.2 L1464.63,91.67 L1464.88,93.15 L1465.13,94.63 L1465.38,96.11 L1465.64,97.58 L1465.89,99.06 L1466.15,100.53 L1466.41,102.01 L1466.68,103.48 L1466.94,104.96 L1467.21,106.43 L1467.48,107.9 L1467.76,109.38 L1468.03,110.85 L1468.31,112.32 L1468.59,113.79 L1468.88,115.26 L1469.17,116.73 L1469.46,118.2 L1469.75,119.67 L1470.05,121.14 L1470.34,122.6 L1470.65,124.07 L1470.95,125.54 L1471.26,127 L1471.57,128.47 L1471.89,129.93 L1472.21,131.39 L1472.53,132.85 L1472.86,134.32 L1473.19,135.78 L1473.52,137.24 L1473.86,138.7 L1474.2,140.16 L1474.54,141.61 L1474.89,143.07 L1475.25,144.53 L1475.6,145.98 L1475.96,147.44 L1476.33,148.89 L1476.7,150.34 L1477.07,151.8 L1477.45,153.25 L1477.83,154.7 L1478.22,156.15 L1478.61,157.6 L1479,159.04 L1479.4,160.49 L1479.81,161.94 L1480.22,163.38 L1480.63,164.82 L1481.05,166.27 L1481.48,167.71 L1481.91,169.15 L1482.34,170.59 L1482.78,172.03 L1483.22,173.46 L1483.67,174.9 L1484.13,176.34 L1484.59,177.77 L1485.05,179.2 L1485.52,180.64 L1486,182.07 L1486.48,183.5 L1486.97,184.93 L1487.46,186.35 L1487.96,187.78 L1488.47,189.2 L1488.98,190.63 L1489.49,192.05 L1490.01,193.47 L1490.54,194.89 L1491.07,196.31 L1491.61,197.72 L1492.16,199.13 L1492.71,200.54 L1493.27,201.95 L1493.83,203.36 L1494.4,204.77 L1494.97,206.17 L1495.56,207.57 L1496.14,208.96 L1496.74,210.36 L1497.34,211.75 L1497.94,213.14 L1498.55,214.53 L1499.17,215.91 L1499.8,217.29 L1500.43,218.67 L1501.06,220.04 L1501.71,221.41 L1502.35,222.78 L1503.01,224.14 L1503.67,225.5 L1504.34,226.86 L1505.02,228.21 L1505.7,229.56 L1506.38,230.91 L1507.08,232.25 L1507.78,233.59 L1508.49,234.92 L1509.2,236.25 L1509.92,237.57 L1510.65,238.9 L1511.38,240.21 L1512.12,241.52 L1512.87,242.83 L1513.62,244.13 L1514.39,245.43 L1515.15,246.72 L1515.93,248.01 L1516.71,249.29 L1517.5,250.57 L1518.29,251.84 L1519.09,253.1 L1519.9,254.36 L1520.72,255.62 L1521.54,256.87 L1522.37,258.11 L1523.21,259.35 L1524.05,260.58 L1524.9,261.81 L1525.76,263.03 L1526.62,264.25 L1527.5,265.45 L1528.38,266.66 L1529.26,267.85 L1530.16,269.04 L1531.06,270.22 L1531.97,271.4 L1532.88,272.57 L1533.81,273.73 L1534.74,274.89 L1535.68,276.04 L1536.62,277.18 L1537.57,278.31 L1538.53,279.44 L1539.5,280.56 L1540.48,281.67 L1541.46,282.78 L1542.45,283.88 L1543.45,284.97 L1544.46,286.05 L1545.47,287.12 L1546.49,288.19 L1547.52,289.25 L1548.56,290.3 L1549.6,291.34 L1550.65,292.38 L1551.71,293.4 L1552.78,294.42 L1553.86,295.43 L1554.94,296.43 L1556.03,297.42 L1557.13,298.41 L1558.24,299.38 L1559.35,300.35 L1560.48,301.3 L1561.61,302.25 L1562.75,303.19 L1563.89,304.12 L1565.05,305.04 L1566.21,305.95 L1567.39,306.85 L1568.57,307.74 L1569.75,308.62 L1570.95,309.49 L1572.15,310.35 L1573.37,311.21 L1574.59,312.05 L1575.82,312.88 L1577.05,313.71 L1578.3,314.52 L1579.55,315.33 L1580.81,316.12 L1582.07,316.91 L1583.34,317.69 L1584.62,318.46 L1585.91,319.22 L1587.2,319.97 L1588.5,320.72 L1589.8,321.45 L1591.11,322.18 L1592.43,322.9 L1593.75,323.61 L1595.08,324.32 L1596.41,325.01 L1597.75,325.7 L1599.09,326.38 L1600.44,327.05 L1601.79,327.72 L1603.15,328.37 L1604.52,329.02 L1605.88,329.67 L1607.25,330.3 L1608.63,330.93 L1610.01,331.55 L1611.39,332.17 L1612.78,332.78 L1614.17,333.38 L1615.57,333.97 L1616.97,334.56 L1618.37,335.15 L1619.77,335.72 L1621.18,336.29 L1622.59,336.86 L1624,337.41 L1625.42,337.97 L1626.83,338.51 L1628.25,339.05 L1629.67,339.59 L1631.1,340.12 L1632.52,340.65 L1633.95,341.16 L1635.38,341.68 L1636.81,342.19 L1638.24,342.69 L1639.67,343.19 L1641.1,343.69 L1642.54,344.18 L1643.97,344.66 L1645.41,345.14 L1646.84,345.62 L1648.28,346.09 L1649.72,346.56 L1651.15,347.02 L1652.59,347.48 L1654.03,347.94 L1655.47,348.39 L1656.91,348.83 L1658.35,349.28 L1659.79,349.72 L1661.24,350.15 L1662.68,350.58 L1664.12,351.01 L1665.57,351.43 L1667.01,351.85 L1668.46,352.26 L1669.9,352.68 L1671.35,353.08 L1672.79,353.49 L1674.24,353.89 L1675.69,354.29 L1677.14,354.68 L1678.59,355.07 L1680.04,355.46 L1681.49,355.85 L1682.94,356.23 L1684.39,356.6 L1685.84,356.98 L1687.29,357.35 L1688.75,357.72 L1690.2,358.09 L1691.65,358.45 L1693.11,358.81 L1694.56,359.17 L1696.02,359.52 L1697.48,359.87 L1698.93,360.22 L1700.39,360.57 L1701.85,360.91 L1703.3,361.25 L1704.76,361.59 L1706.22,361.93 L1707.68,362.27 L1709.14,362.6 L1710.6,362.93 L1712.06,363.26 L1713.52,363.58 L1714.98,363.9 L1716.44,364.23 L1717.91,364.55 L1719.37,364.86 L1720.83,365.18 L1722.3,365.49 L1723.76,365.81 L1725.22,366.12 L1726.69,366.42 L1728.15,366.73 L1729.62,367.04 L1731.08,367.34 L1732.55,367.64 L1734.02,367.94 L1735.48,368.24 L1736.95,368.53 L1738.42,368.83 L1739.89,369.12 L1741.36,369.41 L1742.82,369.7 L1744.29,369.99 L1745.76,370.27 L1747.23,370.56 L1748.7,370.84 L1750.17,371.12 L1751.64,371.4 L1753.12,371.67 L1754.59,371.95 L1756.06,372.22 L1757.53,372.49 L1759,372.76 L1760.48,373.03 L1761.95,373.3 L1763.42,373.57 L1764.9,373.83 L1766.37,374.09 L1767.85,374.35 L1769.32,374.61 L1770.8,374.87 L1772.27,375.12 L1773.75,375.38 L1775.23,375.63 L1776.7,375.88 L1778.18,376.13 L1779.66,376.38 L1781.13,376.63 L1782.61,376.87 L1784.09,377.11 L1785.57,377.36 L1787.05,377.6 L1788.53,377.83 L1790.01,378.07 L1791.48,378.31 L1792.96,378.54 L1794.44,378.77 L1795.93,379.01 L1797.41,379.24 L1798.89,379.46 L1800.37,379.69 L1801.85,379.92 L1803.33,380.14 L1804.81,380.36 L1806.3,380.59 L1807.78,380.81 L1809.26,381.02 L1810.74,381.24 L1812.23,381.46 L1813.71,381.67 L1815.19,381.88 L1816.68,382.1 L1818.16,382.31 L1819.65,382.52 L1821.13,382.72 L1822.62,382.93 L1824.1,383.14 L1825.59,383.34 L1827.07,383.54 L1828.56,383.74 L1830.05,383.94 L1831.53,384.14 L1833.02,384.34 L1834.5,384.53 L1835.99,384.73 L1837.48,384.92 L1838.97,385.12 L1840.45,385.31 L1841.94,385.5 L1843.43,385.69 L1844.92,385.87 L1846.41,386.06 L1847.89,386.24 L1849.38,386.43 L1850.87,386.61 L1852.36,386.79 L1853.85,386.97 L1855.34,387.15 L1856.83,387.33 L1858.32,387.51 L1859.81,387.68 L1861.3,387.86 L1862.79,388.03 L1864.28,388.2 L1865.77,388.38 L1867.26,388.55 L1868.75,388.71 L1870.24,388.88 L1871.74,389.05 L1873.23,389.22 L1874.72,389.38 L1876.21,389.54 L1877.7,389.71 L1879.19,389.87 L1880.69,390.03 L1882.18,390.19 L1883.67,390.35 L1885.16,390.51 L1886.66,390.66 L1888.15,390.82 L1889.64,390.97 L1891.13,391.13 L1892.63,391.28 L1894.12,391.43 L1895.61,391.58 L1897.11,391.73 L1898.6,391.88 L1900.09,392.03 L1901.59,392.18 L1903.08,392.32 L1904.58,392.47 L1906.07,392.61 L1907.56,392.76 L1909.06,392.9 L1910.55,393.04 L1912.05,393.18 L1913.54,393.32 L1915.04,393.46 L1916.53,393.6 L1918.02,393.74 L1919.52,393.88 L1921.01,394.01 L1922.51,394.15 L1924,394.28 L1925.5,394.42 L1926.99,394.55 L1928.49,394.68 L1929.98,394.81 L1931.48,394.94 L1932.97,395.07 L1934.47,395.2 L1935.96,395.33 L1937.46,395.46 L1938.96,395.59 L1940.45,395.71 L1941.95,395.84 L1943.44,395.96 L1944.94,396.09 L1946.43,396.21 L1947.93,396.33 L1949.42,396.45 L1950.92,396.57 L1952.42,396.7 L1953.91,396.82 L1955.41,396.94 L1956.9,397.05 L1958.4,397.17 L1959.89,397.29 L1961.39,397.41 L1962.89,397.52 L1964.38,397.64 L1965.88,397.75 L1967.37,397.87 L1968.87,397.98 L1970.36,398.1 L1971.86,398.21 L1973.35,398.32 L1974.85,398.43 L1976.35,398.54 L1977.84,398.66 L1979.34,398.77 L1980.83,398.88 L1982.33,398.98 L1983.82,399.09 L1985.3,399.2" fill="none" stroke="#3769b1" stroke-width="5.5" stroke-linejoin="round" stroke-linecap="butt"/>
<path d="M1452.8,281.29 L1454.1,282.06 L1455.39,282.83 L1456.69,283.59 L1457.99,284.34 L1459.3,285.1 L1460.6,285.85 L1461.91,286.59 L1463.22,287.33 L1464.54,288.06 L1465.85,288.79 L1467.17,289.52 L1468.5,290.24 L1469.82,290.95 L1471.15,291.66 L1472.48,292.37 L1473.81,293.06 L1475.15,293.76 L1476.49,294.44 L1477.83,295.12 L1479.17,295.8 L1480.52,296.47 L1481.87,297.13 L1483.22,297.78 L1484.57,298.43 L1485.93,299.07 L1487.29,299.7 L1488.65,300.33 L1490.02,300.95 L1491.39,301.56 L1492.76,302.17 L1494.14,302.76 L1495.51,303.35 L1496.89,303.93 L1498.28,304.51 L1499.66,305.07 L1501.05,305.63 L1502.45,306.17 L1503.84,306.71 L1505.24,307.24 L1506.64,307.76 L1508.04,308.28 L1509.45,308.78 L1510.86,309.27 L1512.27,309.76 L1513.69,310.24 L1515.11,310.71 L1516.53,311.17 L1517.95,311.62 L1519.38,312.07 L1520.8,312.51 L1522.23,312.94 L1523.67,313.37 L1525.1,313.78 L1526.54,314.19 L1527.98,314.59 L1529.42,314.99 L1530.86,315.38 L1532.31,315.76 L1533.76,316.14 L1535.21,316.51 L1536.66,316.87 L1538.11,317.23 L1539.56,317.58 L1541.02,317.93 L1542.48,318.27 L1543.94,318.61 L1545.4,318.94 L1546.86,319.26 L1548.33,319.58 L1549.79,319.9 L1551.26,320.21 L1552.73,320.52 L1554.2,320.82 L1555.67,321.11 L1557.14,321.41 L1558.61,321.7 L1560.09,321.98 L1561.56,322.26 L1563.04,322.54 L1564.51,322.81 L1565.99,323.08 L1567.47,323.35 L1568.95,323.61 L1570.42,323.88 L1571.9,324.13 L1573.38,324.39 L1574.86,324.64 L1576.35,324.89 L1577.83,325.14 L1579.31,325.39 L1580.79,325.63 L1582.27,325.87 L1583.75,326.11 L1585.24,326.35 L1586.72,326.59 L1588.2,326.82 L1589.69,327.05 L1591.17,327.28 L1592.65,327.51 L1594.14,327.74 L1595.62,327.96 L1597.1,328.19 L1598.59,328.41 L1600.07,328.63 L1601.56,328.84 L1603.04,329.06 L1604.53,329.27 L1606.01,329.49 L1607.5,329.7 L1608.98,329.9 L1610.47,330.11 L1611.96,330.32 L1613.44,330.52 L1614.93,330.72 L1616.42,330.92 L1617.9,331.12 L1619.39,331.31 L1620.88,331.51 L1622.36,331.7 L1623.85,331.89 L1625.34,332.08 L1626.83,332.27 L1628.31,332.45 L1629.8,332.64 L1631.29,332.82 L1632.78,333 L1634.27,333.18 L1635.76,333.36 L1637.25,333.53 L1638.74,333.71 L1640.23,333.88 L1641.71,334.05 L1643.2,334.22 L1644.69,334.39 L1646.18,334.55 L1647.67,334.72 L1649.17,334.88 L1650.66,335.04 L1652.15,335.2 L1653.64,335.36 L1655.13,335.52 L1656.62,335.68 L1658.11,335.83 L1659.6,335.98 L1661.09,336.14 L1662.59,336.29 L1664.08,336.43 L1665.57,336.58 L1667.06,336.73 L1668.55,336.87 L1670.05,337.01 L1671.54,337.16 L1673.03,337.3 L1674.52,337.43 L1676.02,337.57 L1677.51,337.71 L1679,337.84 L1680.5,337.98 L1681.99,338.11 L1683.48,338.24 L1684.98,338.37 L1686.47,338.49 L1687.97,338.62 L1689.46,338.75 L1690.95,338.87 L1692.45,338.99 L1693.94,339.12 L1695.44,339.24 L1696.93,339.36 L1698.43,339.47 L1699.92,339.59 L1701.42,339.71 L1702.91,339.82 L1704.41,339.93 L1705.9,340.05 L1707.4,340.16 L1708.89,340.27 L1710.39,340.37 L1711.89,340.48 L1713.38,340.59 L1714.88,340.69 L1716.37,340.8 L1717.87,340.9 L1719.37,341 L1720.86,341.1 L1722.36,341.2 L1723.86,341.3 L1725.35,341.4 L1726.85,341.49 L1728.35,341.59 L1729.85,341.68 L1731.34,341.78 L1732.84,341.87 L1734.34,341.96 L1735.83,342.05 L1737.33,342.14 L1738.83,342.23 L1740.33,342.32 L1741.83,342.4 L1743.32,342.49 L1744.82,342.57 L1746.32,342.66 L1747.82,342.74 L1749.32,342.82 L1750.81,342.9 L1752.31,342.98 L1753.81,343.06 L1755.31,343.14 L1756.81,343.22 L1758.31,343.3 L1759.81,343.37 L1761.3,343.45 L1762.8,343.52 L1764.3,343.6 L1765.8,343.67 L1767.3,343.74 L1768.8,343.81 L1770.3,343.88 L1771.8,343.95 L1773.3,344.02 L1774.8,344.09 L1776.3,344.16 L1777.79,344.22 L1779.29,344.29 L1780.79,344.35 L1782.29,344.42 L1783.79,344.48 L1785.29,344.55 L1786.79,344.61 L1788.29,344.67 L1789.79,344.73 L1791.29,344.79 L1792.79,344.85 L1794.29,344.91 L1795.79,344.97 L1797.29,345.03 L1798.79,345.09 L1800.29,345.14 L1801.79,345.2 L1803.29,345.26 L1804.79,345.31 L1806.29,345.37 L1807.79,345.42 L1809.29,345.47 L1810.79,345.53 L1812.29,345.58 L1813.8,345.63 L1815.3,345.68 L1816.8,345.73 L1818.3,345.79 L1819.8,345.84 L1821.3,345.89 L1822.8,345.94 L1824.3,345.98 L1825.8,346.03 L1827.3,346.08 L1828.8,346.13 L1830.3,346.18 L1831.8,346.22 L1833.3,346.27 L1834.8,346.32 L1836.3,346.36 L1837.8,346.41 L1839.31,346.45 L1840.81,346.5 L1842.31,346.54 L1843.81,346.59 L1845.31,346.63 L1846.81,346.68 L1848.31,346.72 L1849.81,346.76 L1851.31,346.81 L1852.81,346.85 L1854.31,346.89 L1855.81,346.93 L1857.31,346.98 L1858.81,347.02 L1860.31,347.06 L1861.82,347.1 L1863.32,347.14 L1864.82,347.18 L1866.32,347.22 L1867.82,347.27 L1869.32,347.31 L1870.82,347.35 L1872.32,347.39 L1873.82,347.43 L1875.32,347.47 L1876.82,347.51 L1878.32,347.55 L1879.82,347.59 L1881.32,347.63 L1882.82,347.67 L1884.32,347.71 L1885.82,347.75 L1887.32,347.79 L1888.82,347.83 L1890.32,347.87 L1891.82,347.91 L1893.32,347.95 L1894.82,347.99 L1896.32,348.03 L1897.82,348.07 L1899.32,348.11 L1900.82,348.15 L1902.32,348.19 L1903.82,348.23 L1905.32,348.27 L1906.82,348.31 L1908.32,348.35 L1909.82,348.39 L1911.32,348.43 L1912.82,348.47 L1914.32,348.51 L1915.82,348.55 L1917.32,348.59 L1918.82,348.64 L1920.32,348.68 L1921.82,348.72 L1923.32,348.76 L1924.82,348.8 L1926.32,348.85 L1927.81,348.89 L1929.31,348.93 L1930.81,348.98 L1932.31,349.02 L1933.81,349.06 L1935.31,349.11 L1936.81,349.15 L1938.3,349.2 L1939.8,349.24 L1941.3,349.29 L1942.8,349.33 L1944.3,349.38 L1945.8,349.42 L1947.29,349.47 L1948.79,349.52 L1950.29,349.56 L1951.79,349.61 L1953.29,349.66 L1954.78,349.71 L1956.28,349.76 L1957.78,349.81 L1959.27,349.86 L1960.77,349.91 L1962.27,349.96 L1963.77,350.01 L1965.26,350.06 L1966.76,350.11 L1968.26,350.17 L1969.75,350.22 L1971.25,350.27 L1972.75,350.33 L1974.24,350.38 L1975.74,350.44 L1977.24,350.49 L1978.73,350.55 L1980.23,350.61 L1981.72,350.66 L1983.22,350.72 L1984.71,350.78 L1985.3,350.8" fill="none" stroke="#c82027" stroke-width="5.5" stroke-linejoin="round" stroke-linecap="butt"/>
<line x1="1602.2" y1="96.7" x2="1686" y2="96.7" stroke="#3769b1" stroke-width="2.0" />
<polygon points="1683.3,85 1705.9,96.6 1683.3,108.1" fill="#3769b1"/>
<text transform="translate(1710.24,108.4) scale(0.4298,0.4522)" font-size="100" fill="#000" stroke="#000" stroke-width="1.4" >T</text>
<text transform="translate(1735.32,115) scale(0.291,0.2986)" font-size="100" fill="#000" stroke="#000" stroke-width="1.4" >F</text>
<text transform="translate(1764.09,108.4) scale(0.428,0.4522)" font-size="100" fill="#000" stroke="#000" stroke-width="1.4" >&gt;</text>
<text transform="translate(1799.29,108.4) scale(0.4307,0.4522)" font-size="100" fill="#000" stroke="#000" stroke-width="1.4" >T</text>
<text transform="translate(1823.91,115.2) scale(0.3094,0.2982)" font-size="100" fill="#000" stroke="#000" stroke-width="1.4" >e</text>
<text transform="translate(1722.04,319) scale(0.4723,0.4826)" font-size="100" fill="#c00000" stroke="#c00000" stroke-width="1.4" >T</text>
<text transform="translate(1749.42,326.1) scale(0.322,0.3377)" font-size="100" fill="#c00000" stroke="#c00000" stroke-width="1.4" >F</text>
<text transform="translate(1650.67,403.15) scale(0.4658,0.4841)" font-size="100" fill="#3769b1" stroke="#3769b1" stroke-width="1.4" >T</text>
<text transform="translate(1672.7,410.07) scale(0.3365,0.3309)" font-size="100" fill="#3769b1" stroke="#3769b1" stroke-width="1.4" >e</text>
<text transform="translate(1948.87,59.05) scale(0.4571,0.464)" font-size="100" fill="#000" font-weight="bold">c</text>
<text transform="translate(1652.85,503.7) scale(0.3263,0.3293)" font-size="100" fill="#262626" stroke="#262626" stroke-width="1.0" >Time [ps]</text>
<text transform="translate(1370,295.34) rotate(-90) scale(0.3185,0.3415)" font-size="100" fill="#262626" stroke="#262626" stroke-width="1.0" >T<tspan font-size="80" dy="46">e</tspan><tspan dy="-46">, T</tspan><tspan font-size="80" dy="46">F</tspan><tspan dy="-46"> [eV]</tspan></text>
</svg>
</body>
</html>
